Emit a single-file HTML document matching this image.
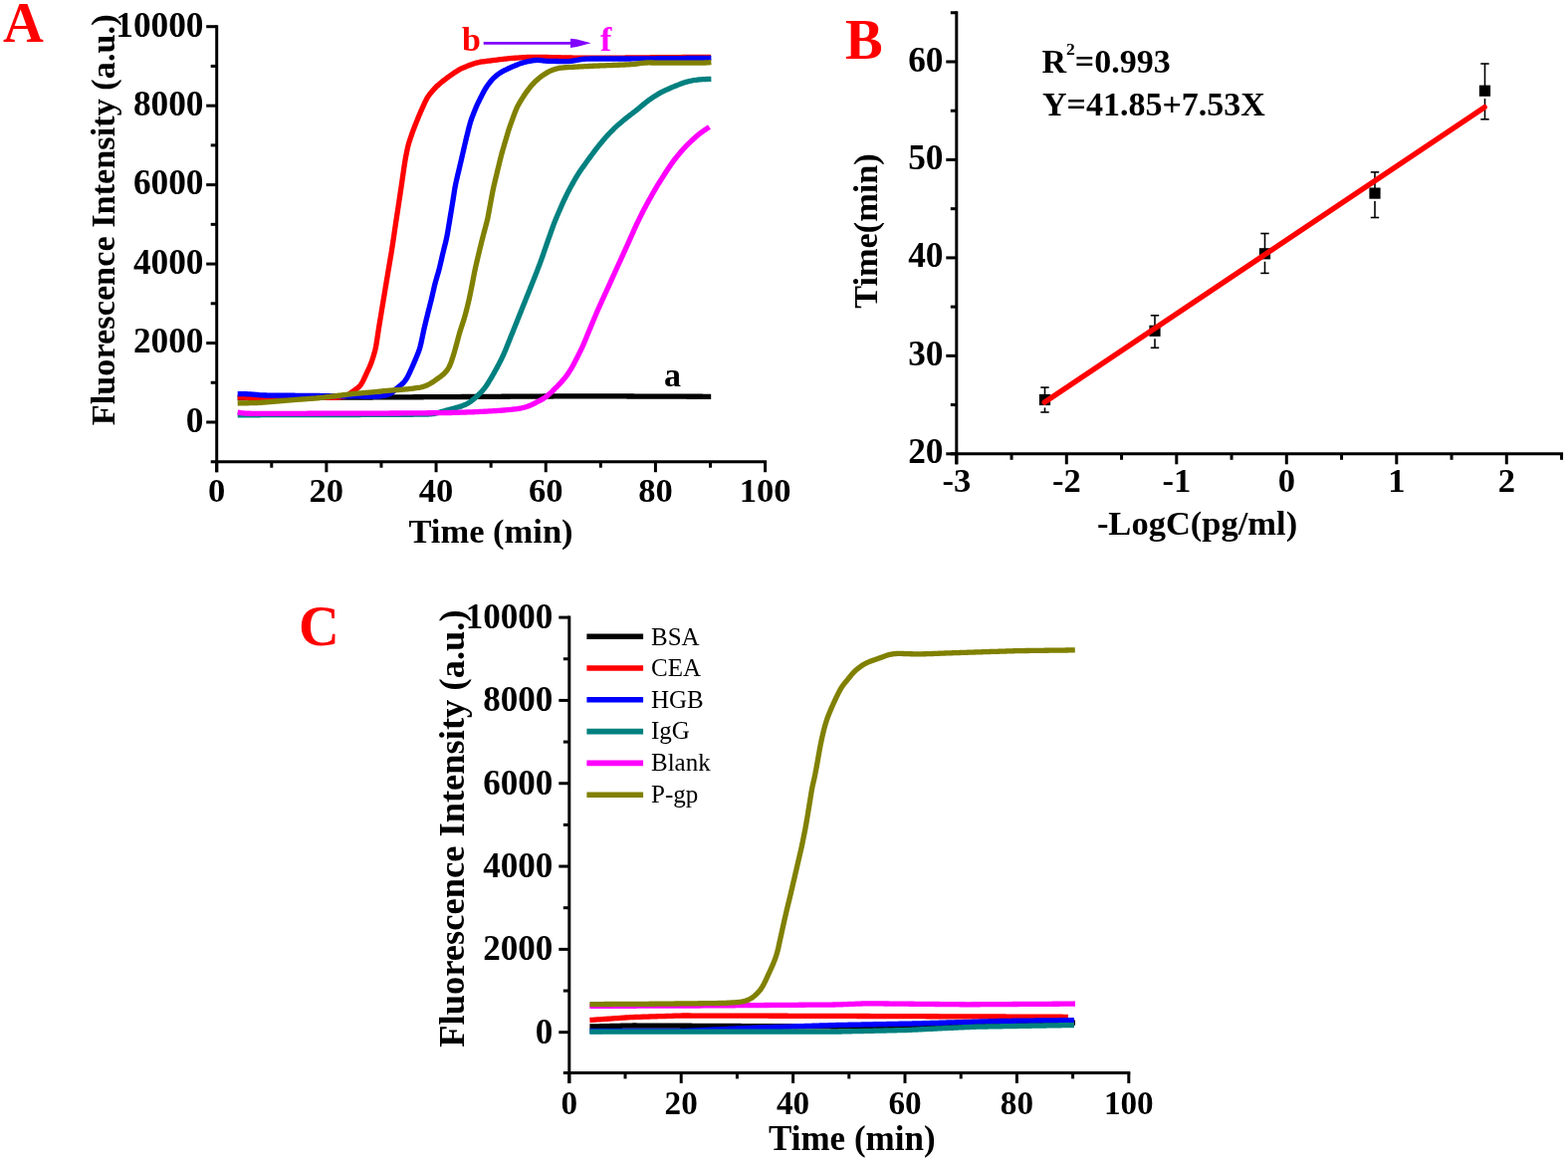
<!DOCTYPE html>
<html><head><meta charset="utf-8"><title>Figure</title>
<style>html,body{margin:0;padding:0;background:#fff;}svg{display:block;}</style>
</head><body>
<svg width="1575" height="1166" viewBox="0 0 1575 1166" font-family="'Liberation Serif', 'Times New Roman', serif">
<rect x="0" y="0" width="1575" height="1166" fill="#fff"/>
<line x1="217.7" y1="25.2" x2="217.7" y2="474.23" stroke="#000" stroke-width="3" stroke-linecap="butt"/>
<line x1="211.7" y1="463.73" x2="770.1" y2="463.73" stroke="#000" stroke-width="3" stroke-linecap="butt"/>
<line x1="207.2" y1="424" x2="217.7" y2="424" stroke="#000" stroke-width="3" stroke-linecap="butt"/>
<line x1="207.2" y1="344.54" x2="217.7" y2="344.54" stroke="#000" stroke-width="3" stroke-linecap="butt"/>
<line x1="207.2" y1="265.08" x2="217.7" y2="265.08" stroke="#000" stroke-width="3" stroke-linecap="butt"/>
<line x1="207.2" y1="185.62" x2="217.7" y2="185.62" stroke="#000" stroke-width="3" stroke-linecap="butt"/>
<line x1="207.2" y1="106.16" x2="217.7" y2="106.16" stroke="#000" stroke-width="3" stroke-linecap="butt"/>
<line x1="207.2" y1="26.7" x2="217.7" y2="26.7" stroke="#000" stroke-width="3" stroke-linecap="butt"/>
<line x1="211.7" y1="384.27" x2="217.7" y2="384.27" stroke="#000" stroke-width="3" stroke-linecap="butt"/>
<line x1="211.7" y1="304.81" x2="217.7" y2="304.81" stroke="#000" stroke-width="3" stroke-linecap="butt"/>
<line x1="211.7" y1="225.35" x2="217.7" y2="225.35" stroke="#000" stroke-width="3" stroke-linecap="butt"/>
<line x1="211.7" y1="145.89" x2="217.7" y2="145.89" stroke="#000" stroke-width="3" stroke-linecap="butt"/>
<line x1="211.7" y1="66.43" x2="217.7" y2="66.43" stroke="#000" stroke-width="3" stroke-linecap="butt"/>
<line x1="217.7" y1="463.73" x2="217.7" y2="474.23" stroke="#000" stroke-width="3" stroke-linecap="butt"/>
<line x1="327.88" y1="463.73" x2="327.88" y2="474.23" stroke="#000" stroke-width="3" stroke-linecap="butt"/>
<line x1="438.06" y1="463.73" x2="438.06" y2="474.23" stroke="#000" stroke-width="3" stroke-linecap="butt"/>
<line x1="548.24" y1="463.73" x2="548.24" y2="474.23" stroke="#000" stroke-width="3" stroke-linecap="butt"/>
<line x1="658.42" y1="463.73" x2="658.42" y2="474.23" stroke="#000" stroke-width="3" stroke-linecap="butt"/>
<line x1="768.6" y1="463.73" x2="768.6" y2="474.23" stroke="#000" stroke-width="3" stroke-linecap="butt"/>
<line x1="272.79" y1="463.73" x2="272.79" y2="469.73" stroke="#000" stroke-width="3" stroke-linecap="butt"/>
<line x1="382.97" y1="463.73" x2="382.97" y2="469.73" stroke="#000" stroke-width="3" stroke-linecap="butt"/>
<line x1="493.15" y1="463.73" x2="493.15" y2="469.73" stroke="#000" stroke-width="3" stroke-linecap="butt"/>
<line x1="603.33" y1="463.73" x2="603.33" y2="469.73" stroke="#000" stroke-width="3" stroke-linecap="butt"/>
<line x1="713.51" y1="463.73" x2="713.51" y2="469.73" stroke="#000" stroke-width="3" stroke-linecap="butt"/>
<text x="204.5" y="433.8" font-size="35.3" text-anchor="end" font-weight="bold" fill="#000">0</text>
<text x="204.5" y="354.34" font-size="35.3" text-anchor="end" font-weight="bold" fill="#000">2000</text>
<text x="204.5" y="274.88" font-size="35.3" text-anchor="end" font-weight="bold" fill="#000">4000</text>
<text x="204.5" y="195.42" font-size="35.3" text-anchor="end" font-weight="bold" fill="#000">6000</text>
<text x="204.5" y="115.96" font-size="35.3" text-anchor="end" font-weight="bold" fill="#000">8000</text>
<text x="204.5" y="36.5" font-size="35.3" text-anchor="end" font-weight="bold" fill="#000">10000</text>
<text x="217.7" y="503.6" font-size="34.6" text-anchor="middle" font-weight="bold" fill="#000">0</text>
<text x="327.88" y="503.6" font-size="34.6" text-anchor="middle" font-weight="bold" fill="#000">20</text>
<text x="438.06" y="503.6" font-size="34.6" text-anchor="middle" font-weight="bold" fill="#000">40</text>
<text x="548.24" y="503.6" font-size="34.6" text-anchor="middle" font-weight="bold" fill="#000">60</text>
<text x="658.42" y="503.6" font-size="34.6" text-anchor="middle" font-weight="bold" fill="#000">80</text>
<text x="768.6" y="503.6" font-size="34.6" text-anchor="middle" font-weight="bold" fill="#000">100</text>
<text x="493" y="545.4" font-size="34.5" text-anchor="middle" font-weight="bold" fill="#000">Time (min)</text>
<text transform="translate(114.9,427.2) rotate(-90)" font-size="34.3" font-weight="bold" text-anchor="start" fill="#000">Fluorescence Intensity (a.u.)</text>
<text x="3" y="41.7" font-size="56.5" text-anchor="start" font-weight="bold" fill="#FF0000">A</text>
<path d="M238.7,399.6 L240.2,399.59 L241.7,399.59 L243.2,399.58 L244.7,399.57 L246.2,399.57 L247.7,399.56 L249.2,399.55 L250.7,399.55 L252.2,399.54 L253.7,399.53 L255.2,399.53 L256.7,399.52 L258.2,399.51 L259.7,399.51 L261.2,399.5 L262.7,399.49 L264.2,399.49 L265.7,399.48 L267.2,399.47 L268.7,399.47 L270.2,399.46 L271.7,399.45 L273.2,399.45 L274.7,399.44 L276.2,399.43 L277.7,399.42 L279.2,399.42 L280.7,399.41 L282.2,399.4 L283.7,399.4 L285.2,399.39 L286.7,399.38 L288.2,399.38 L289.7,399.37 L291.2,399.36 L292.7,399.36 L294.2,399.35 L295.7,399.34 L297.2,399.34 L298.7,399.33 L300.2,399.32 L301.7,399.32 L303.2,399.31 L304.7,399.3 L306.2,399.3 L307.7,399.29 L309.2,399.28 L310.7,399.28 L312.2,399.27 L313.7,399.26 L315.2,399.26 L316.7,399.25 L318.2,399.24 L319.7,399.24 L321.2,399.23 L322.7,399.22 L324.2,399.22 L325.7,399.21 L327.2,399.2 L328.7,399.2 L330.2,399.19 L331.7,399.18 L333.2,399.18 L334.7,399.17 L336.2,399.16 L337.7,399.16 L339.2,399.15 L340.7,399.14 L342.2,399.14 L343.7,399.13 L345.2,399.12 L346.7,399.11 L348.2,399.11 L349.7,399.1 L351.2,399.09 L352.7,399.09 L354.2,399.08 L355.7,399.07 L357.2,399.06 L358.7,399.06 L360.2,399.05 L361.7,399.04 L363.2,399.03 L364.7,399.03 L366.2,399.02 L367.7,399.01 L369.2,399 L370.7,399 L372.2,398.99 L373.7,398.98 L375.2,398.97 L376.7,398.97 L378.2,398.96 L379.7,398.95 L381.2,398.94 L382.7,398.94 L384.2,398.93 L385.7,398.92 L387.2,398.91 L388.7,398.91 L390.2,398.9 L391.7,398.89 L393.2,398.88 L394.7,398.88 L396.2,398.87 L397.7,398.86 L399.2,398.85 L400.7,398.85 L402.2,398.84 L403.7,398.83 L405.2,398.82 L406.7,398.82 L408.2,398.81 L409.7,398.8 L411.2,398.79 L412.7,398.79 L414.2,398.78 L415.7,398.77 L417.2,398.76 L418.7,398.76 L420.2,398.75 L421.7,398.74 L423.2,398.73 L424.7,398.73 L426.2,398.72 L427.7,398.71 L429.2,398.7 L430.7,398.7 L432.2,398.69 L433.7,398.68 L435.2,398.67 L436.7,398.67 L438.2,398.66 L439.7,398.65 L441.2,398.64 L442.7,398.64 L444.2,398.63 L445.7,398.62 L447.2,398.61 L448.7,398.61 L450.2,398.6 L451.7,398.59 L453.2,398.58 L454.7,398.57 L456.2,398.56 L457.7,398.55 L459.2,398.54 L460.7,398.54 L462.2,398.53 L463.7,398.52 L465.2,398.51 L466.7,398.5 L468.2,398.49 L469.7,398.48 L471.2,398.47 L472.7,398.46 L474.2,398.45 L475.7,398.45 L477.2,398.44 L478.7,398.43 L480.2,398.42 L481.7,398.41 L483.2,398.4 L484.7,398.39 L486.2,398.38 L487.7,398.37 L489.2,398.36 L490.7,398.36 L492.2,398.35 L493.7,398.34 L495.2,398.33 L496.7,398.32 L498.2,398.31 L499.7,398.3 L501.2,398.29 L502.7,398.28 L504.2,398.27 L505.7,398.27 L507.2,398.26 L508.7,398.25 L510.2,398.24 L511.7,398.23 L513.2,398.22 L514.7,398.21 L516.2,398.2 L517.7,398.19 L519.2,398.18 L520.7,398.18 L522.2,398.17 L523.7,398.16 L525.2,398.15 L526.7,398.14 L528.2,398.13 L529.7,398.12 L531.2,398.11 L532.7,398.1 L534.2,398.09 L535.7,398.09 L537.2,398.08 L538.7,398.07 L540.2,398.06 L541.7,398.05 L543.2,398.04 L544.7,398.03 L546.2,398.02 L547.7,398.01 L549.2,398.01 L550.7,398 L552.2,397.99 L553.7,397.99 L555.2,397.98 L556.7,397.97 L558.2,397.97 L559.7,397.96 L561.2,397.96 L562.7,397.95 L564.2,397.94 L565.7,397.94 L567.2,397.93 L568.7,397.93 L570.2,397.92 L571.7,397.91 L573.2,397.91 L574.7,397.9 L576.2,397.9 L577.7,397.89 L579.2,397.88 L580.7,397.88 L582.2,397.87 L583.7,397.87 L585.2,397.86 L586.7,397.85 L588.2,397.85 L589.7,397.84 L591.2,397.84 L592.7,397.83 L594.2,397.82 L595.7,397.82 L597.2,397.81 L598.7,397.81 L600.2,397.81 L601.7,397.81 L603.2,397.82 L604.7,397.83 L606.2,397.84 L607.7,397.85 L609.2,397.86 L610.7,397.86 L612.2,397.87 L613.7,397.88 L615.2,397.89 L616.7,397.9 L618.2,397.91 L619.7,397.92 L621.2,397.93 L622.7,397.94 L624.2,397.95 L625.7,397.95 L627.2,397.96 L628.7,397.97 L630.2,397.98 L631.7,397.99 L633.2,398 L634.7,398.01 L636.2,398.02 L637.7,398.03 L639.2,398.04 L640.7,398.04 L642.2,398.05 L643.7,398.06 L645.2,398.07 L646.7,398.08 L648.2,398.09 L649.7,398.1 L651.2,398.1 L652.7,398.11 L654.2,398.11 L655.7,398.12 L657.2,398.12 L658.7,398.13 L660.2,398.13 L661.7,398.14 L663.2,398.14 L664.7,398.15 L666.2,398.15 L667.7,398.16 L669.2,398.16 L670.7,398.16 L672.2,398.17 L673.7,398.17 L675.2,398.18 L676.7,398.18 L678.2,398.19 L679.7,398.19 L681.2,398.2 L682.7,398.2 L684.2,398.21 L685.7,398.21 L687.2,398.22 L688.7,398.22 L690.2,398.23 L691.7,398.23 L693.2,398.23 L694.7,398.24 L696.2,398.24 L697.7,398.25 L699.2,398.25 L700.7,398.26 L702.2,398.26 L703.7,398.27 L705.2,398.27 L706.7,398.28 L708.2,398.28 L709.7,398.29 L711.2,398.29 L712.7,398.3 L714.2,398.3" fill="none" stroke="#000000" stroke-width="5.3" stroke-linejoin="round" stroke-linecap="butt"/>
<path d="M238.7,399.2 L240.2,399.2 L241.7,399.21 L243.21,399.21 L244.71,399.22 L246.21,399.22 L247.71,399.23 L249.21,399.23 L250.72,399.24 L252.22,399.24 L253.72,399.25 L255.22,399.25 L256.72,399.26 L258.22,399.26 L259.73,399.27 L261.23,399.27 L262.73,399.28 L264.23,399.28 L265.73,399.29 L267.24,399.29 L268.74,399.3 L270.24,399.3 L271.74,399.31 L273.24,399.31 L274.75,399.32 L276.25,399.32 L277.75,399.33 L279.25,399.33 L280.75,399.34 L282.26,399.34 L283.76,399.35 L285.26,399.35 L286.76,399.36 L288.26,399.36 L289.76,399.37 L291.27,399.37 L292.77,399.38 L294.27,399.38 L295.77,399.39 L297.27,399.39 L298.78,399.39 L300.28,399.4 L301.78,399.4 L303.28,399.4 L304.78,399.4 L306.29,399.4 L307.79,399.4 L309.29,399.4 L310.79,399.4 L312.29,399.4 L313.8,399.4 L315.3,399.4 L316.8,399.4 L318.3,399.4 L319.8,399.4 L321.3,399.4 L322.81,399.4 L324.31,399.4 L325.81,399.4 L327.31,399.4 L328.81,399.4 L330.32,399.4 L331.82,399.4 L333.32,399.39 L334.82,399.38 L336.32,399.35 L337.82,399.3 L339.31,399.21 L340.8,399.09 L342.28,398.91 L343.73,398.66 L345.16,398.33 L346.55,397.9 L347.89,397.36 L349.18,396.7 L350.42,395.94 L351.64,395.11 L352.85,394.24 L354.06,393.37 L355.28,392.5 L356.5,391.64 L357.71,390.77 L358.9,389.89 L360.02,388.96 L361.07,387.96 L362.02,386.88 L362.88,385.72 L363.64,384.48 L364.35,383.18 L365.01,381.85 L365.65,380.5 L366.28,379.14 L366.91,377.77 L367.54,376.41 L368.18,375.05 L368.81,373.69 L369.45,372.33 L370.08,370.97 L370.71,369.6 L371.33,368.24 L371.92,366.86 L372.49,365.47 L373.03,364.08 L373.53,362.66 L374,361.24 L374.46,359.81 L374.9,358.38 L375.33,356.94 L375.75,355.5 L376.16,354.06 L376.55,352.61 L376.92,351.15 L377.25,349.69 L377.56,348.23 L377.83,346.75 L378.08,345.27 L378.32,343.79 L378.55,342.31 L378.78,340.82 L379,339.34 L379.22,337.85 L379.45,336.37 L379.67,334.88 L379.9,333.4 L380.12,331.91 L380.35,330.43 L380.58,328.95 L380.82,327.46 L381.06,325.98 L381.3,324.5 L381.54,323.02 L381.79,321.53 L382.03,320.05 L382.28,318.57 L382.53,317.09 L382.77,315.61 L383.02,314.13 L383.26,312.64 L383.51,311.16 L383.75,309.68 L384,308.2 L384.24,306.72 L384.49,305.24 L384.74,303.75 L384.98,302.27 L385.23,300.79 L385.47,299.31 L385.72,297.83 L385.96,296.35 L386.21,294.86 L386.46,293.38 L386.7,291.9 L386.95,290.42 L387.19,288.94 L387.44,287.46 L387.68,285.97 L387.93,284.49 L388.18,283.01 L388.42,281.53 L388.67,280.05 L388.91,278.56 L389.16,277.08 L389.4,275.6 L389.65,274.12 L389.9,272.64 L390.15,271.16 L390.4,269.68 L390.65,268.2 L390.9,266.72 L391.15,265.23 L391.4,263.75 L391.66,262.27 L391.91,260.79 L392.16,259.31 L392.42,257.83 L392.67,256.35 L392.91,254.87 L393.16,253.39 L393.4,251.91 L393.63,250.42 L393.86,248.94 L394.09,247.45 L394.31,245.97 L394.53,244.48 L394.75,243 L394.97,241.51 L395.19,240.03 L395.41,238.54 L395.63,237.05 L395.85,235.57 L396.07,234.08 L396.28,232.6 L396.5,231.11 L396.72,229.62 L396.94,228.14 L397.16,226.65 L397.39,225.17 L397.61,223.68 L397.83,222.2 L398.06,220.71 L398.28,219.23 L398.51,217.74 L398.73,216.26 L398.96,214.77 L399.18,213.29 L399.41,211.8 L399.63,210.32 L399.86,208.83 L400.08,207.35 L400.31,205.86 L400.54,204.38 L400.76,202.89 L400.98,201.41 L401.21,199.92 L401.43,198.44 L401.65,196.95 L401.88,195.47 L402.1,193.98 L402.32,192.5 L402.54,191.01 L402.76,189.52 L402.98,188.04 L403.2,186.55 L403.42,185.07 L403.64,183.58 L403.85,182.1 L404.07,180.61 L404.28,179.12 L404.5,177.64 L404.72,176.15 L404.93,174.66 L405.15,173.18 L405.36,171.69 L405.58,170.2 L405.79,168.72 L406.01,167.23 L406.23,165.75 L406.46,164.26 L406.69,162.78 L406.93,161.3 L407.19,159.82 L407.45,158.34 L407.73,156.86 L408.02,155.39 L408.31,153.92 L408.61,152.44 L408.91,150.97 L409.22,149.51 L409.55,148.04 L409.9,146.58 L410.28,145.13 L410.68,143.69 L411.12,142.26 L411.58,140.83 L412.06,139.41 L412.55,137.99 L413.04,136.57 L413.54,135.15 L414.03,133.74 L414.54,132.32 L415.05,130.91 L415.57,129.5 L416.11,128.1 L416.65,126.7 L417.2,125.3 L417.76,123.91 L418.32,122.51 L418.88,121.12 L419.44,119.73 L420,118.34 L420.57,116.95 L421.15,115.56 L421.74,114.18 L422.33,112.8 L422.93,111.42 L423.54,110.05 L424.16,108.68 L424.78,107.31 L425.4,105.94 L426.02,104.58 L426.65,103.22 L427.29,101.86 L427.95,100.52 L428.65,99.2 L429.4,97.92 L430.2,96.67 L431.06,95.45 L431.96,94.26 L432.9,93.1 L433.86,91.95 L434.84,90.81 L435.84,89.69 L436.85,88.59 L437.88,87.51 L438.95,86.46 L440.05,85.44 L441.17,84.46 L442.32,83.5 L443.49,82.55 L444.66,81.62 L445.85,80.69 L447.03,79.78 L448.23,78.87 L449.43,77.97 L450.64,77.08 L451.86,76.21 L453.09,75.34 L454.32,74.48 L455.55,73.63 L456.79,72.78 L458.04,71.95 L459.3,71.15 L460.58,70.38 L461.89,69.65 L463.22,68.97 L464.57,68.34 L465.94,67.75 L467.33,67.18 L468.72,66.62 L470.12,66.08 L471.52,65.54 L472.93,65.01 L474.34,64.5 L475.75,64.01 L477.18,63.56 L478.62,63.15 L480.07,62.79 L481.53,62.48 L483,62.21 L484.48,61.98 L485.97,61.77 L487.46,61.57 L488.94,61.38 L490.43,61.2 L491.92,61.01 L493.42,60.82 L494.91,60.64 L496.4,60.45 L497.89,60.27 L499.38,60.08 L500.87,59.9 L502.36,59.71 L503.85,59.53 L505.34,59.35 L506.83,59.18 L508.32,59.01 L509.82,58.85 L511.31,58.71 L512.81,58.59 L514.3,58.47 L515.8,58.36 L517.3,58.26 L518.8,58.16 L520.3,58.06 L521.8,57.96 L523.29,57.86 L524.79,57.76 L526.29,57.67 L527.79,57.57 L529.29,57.49 L530.79,57.41 L532.29,57.36 L533.79,57.32 L535.29,57.3 L536.79,57.29 L538.29,57.3 L539.79,57.32 L541.29,57.34 L542.8,57.37 L544.3,57.39 L545.8,57.42 L547.3,57.44 L548.8,57.47 L550.3,57.5 L551.81,57.53 L553.31,57.55 L554.81,57.58 L556.31,57.62 L557.81,57.65 L559.31,57.69 L560.82,57.72 L562.32,57.76 L563.82,57.8 L565.32,57.84 L566.82,57.88 L568.32,57.91 L569.82,57.95 L571.33,57.97 L572.83,58 L574.33,58.02 L575.83,58.04 L577.33,58.06 L578.83,58.08 L580.34,58.09 L581.84,58.11 L583.34,58.13 L584.84,58.14 L586.34,58.16 L587.84,58.17 L589.35,58.19 L590.85,58.2 L592.35,58.22 L593.85,58.23 L595.35,58.25 L596.86,58.26 L598.36,58.27 L599.86,58.27 L601.36,58.27 L602.86,58.26 L604.37,58.25 L605.87,58.24 L607.37,58.23 L608.87,58.21 L610.37,58.2 L611.87,58.18 L613.38,58.17 L614.88,58.15 L616.38,58.14 L617.88,58.12 L619.38,58.11 L620.89,58.09 L622.39,58.08 L623.89,58.06 L625.39,58.05 L626.89,58.03 L628.39,58.02 L629.9,58 L631.4,57.99 L632.9,57.97 L634.4,57.96 L635.9,57.94 L637.41,57.93 L638.91,57.91 L640.41,57.9 L641.91,57.88 L643.41,57.87 L644.91,57.85 L646.42,57.84 L647.92,57.82 L649.42,57.81 L650.92,57.8 L652.42,57.78 L653.93,57.77 L655.43,57.76 L656.93,57.75 L658.43,57.73 L659.93,57.72 L661.43,57.71 L662.94,57.7 L664.44,57.69 L665.94,57.68 L667.44,57.66 L668.94,57.65 L670.45,57.64 L671.95,57.63 L673.45,57.62 L674.95,57.61 L676.45,57.59 L677.96,57.58 L679.46,57.57 L680.96,57.56 L682.46,57.55 L683.96,57.53 L685.46,57.52 L686.97,57.51 L688.47,57.5 L689.97,57.49 L691.47,57.48 L692.97,57.46 L694.48,57.45 L695.98,57.44 L697.48,57.43 L698.98,57.42 L700.48,57.41 L701.99,57.39 L703.49,57.38 L704.99,57.37 L706.49,57.36 L707.99,57.35 L709.49,57.34 L711,57.32 L712.5,57.31 L714,57.3" fill="none" stroke="#FF0000" stroke-width="5.3" stroke-linejoin="round" stroke-linecap="butt"/>
<path d="M238.7,395.6 L240.2,395.62 L241.7,395.65 L243.2,395.67 L244.7,395.69 L246.2,395.72 L247.7,395.76 L249.2,395.81 L250.69,395.88 L252.19,395.97 L253.68,396.08 L255.18,396.22 L256.67,396.36 L258.16,396.51 L259.65,396.65 L261.15,396.77 L262.64,396.87 L264.14,396.94 L265.63,396.99 L267.13,397.02 L268.63,397.05 L270.13,397.06 L271.63,397.08 L273.13,397.09 L274.63,397.1 L276.13,397.11 L277.63,397.12 L279.13,397.14 L280.63,397.15 L282.13,397.16 L283.63,397.17 L285.13,397.18 L286.64,397.19 L288.14,397.21 L289.64,397.22 L291.14,397.23 L292.64,397.24 L294.14,397.25 L295.64,397.27 L297.14,397.28 L298.64,397.29 L300.14,397.3 L301.64,397.32 L303.14,397.33 L304.64,397.35 L306.14,397.36 L307.64,397.38 L309.14,397.39 L310.64,397.41 L312.14,397.42 L313.64,397.44 L315.14,397.45 L316.64,397.47 L318.14,397.48 L319.64,397.5 L321.14,397.51 L322.64,397.53 L324.14,397.54 L325.64,397.56 L327.14,397.57 L328.64,397.59 L330.14,397.6 L331.64,397.62 L333.14,397.63 L334.64,397.65 L336.14,397.66 L337.64,397.68 L339.14,397.69 L340.64,397.71 L342.14,397.73 L343.64,397.75 L345.14,397.76 L346.64,397.78 L348.14,397.8 L349.64,397.82 L351.14,397.84 L352.64,397.86 L354.14,397.88 L355.64,397.9 L357.14,397.91 L358.64,397.93 L360.15,397.95 L361.65,397.97 L363.15,397.99 L364.65,398.01 L366.15,398.03 L367.65,398.05 L369.15,398.06 L370.65,398.08 L372.15,398.1 L373.65,398.11 L375.15,398.11 L376.64,398.1 L378.14,398.06 L379.63,397.99 L381.13,397.88 L382.61,397.74 L384.1,397.56 L385.57,397.35 L387.03,397.09 L388.45,396.77 L389.83,396.35 L391.15,395.82 L392.41,395.15 L393.6,394.36 L394.74,393.46 L395.86,392.51 L396.97,391.52 L398.08,390.54 L399.22,389.57 L400.37,388.61 L401.53,387.68 L402.67,386.73 L403.79,385.77 L404.86,384.76 L405.85,383.69 L406.77,382.56 L407.61,381.36 L408.4,380.1 L409.14,378.81 L409.85,377.5 L410.53,376.16 L411.18,374.82 L411.83,373.46 L412.46,372.1 L413.08,370.74 L413.69,369.37 L414.3,368 L414.9,366.62 L415.49,365.24 L416.08,363.86 L416.67,362.48 L417.25,361.1 L417.83,359.72 L418.41,358.33 L418.98,356.95 L419.54,355.56 L420.09,354.16 L420.61,352.76 L421.1,351.34 L421.55,349.92 L421.97,348.48 L422.35,347.04 L422.7,345.58 L423.03,344.12 L423.35,342.65 L423.66,341.19 L423.97,339.72 L424.28,338.25 L424.59,336.78 L424.9,335.32 L425.22,333.85 L425.53,332.38 L425.85,330.92 L426.18,329.45 L426.52,327.99 L426.86,326.53 L427.21,325.07 L427.56,323.61 L427.92,322.16 L428.28,320.7 L428.63,319.24 L428.99,317.79 L429.36,316.33 L429.72,314.87 L430.08,313.42 L430.45,311.96 L430.82,310.51 L431.19,309.06 L431.56,307.6 L431.93,306.15 L432.3,304.69 L432.66,303.24 L433.02,301.78 L433.38,300.33 L433.73,298.87 L434.07,297.41 L434.41,295.94 L434.74,294.48 L435.08,293.02 L435.41,291.56 L435.75,290.1 L436.09,288.63 L436.43,287.17 L436.79,285.72 L437.16,284.27 L437.55,282.82 L437.95,281.37 L438.36,279.93 L438.78,278.49 L439.21,277.05 L439.63,275.61 L440.05,274.17 L440.46,272.73 L440.86,271.29 L441.24,269.84 L441.61,268.38 L441.96,266.92 L442.31,265.46 L442.64,264 L442.98,262.54 L443.31,261.08 L443.65,259.61 L443.98,258.15 L444.32,256.69 L444.67,255.23 L445.01,253.77 L445.37,252.31 L445.73,250.86 L446.09,249.4 L446.45,247.95 L446.81,246.49 L447.18,245.03 L447.53,243.58 L447.89,242.12 L448.22,240.66 L448.55,239.19 L448.85,237.73 L449.14,236.26 L449.41,234.78 L449.67,233.3 L449.92,231.82 L450.17,230.35 L450.41,228.87 L450.66,227.39 L450.9,225.91 L451.15,224.43 L451.4,222.94 L451.64,221.46 L451.89,219.98 L452.13,218.5 L452.38,217.02 L452.62,215.54 L452.87,214.06 L453.11,212.58 L453.36,211.1 L453.6,209.62 L453.85,208.14 L454.09,206.66 L454.34,205.18 L454.58,203.7 L454.82,202.22 L455.06,200.74 L455.29,199.26 L455.52,197.78 L455.75,196.29 L455.97,194.81 L456.2,193.33 L456.43,191.84 L456.67,190.36 L456.91,188.89 L457.18,187.41 L457.46,185.94 L457.76,184.47 L458.08,183 L458.41,181.54 L458.75,180.08 L459.09,178.62 L459.43,177.16 L459.78,175.7 L460.13,174.24 L460.47,172.78 L460.82,171.32 L461.16,169.86 L461.51,168.4 L461.85,166.94 L462.2,165.48 L462.54,164.02 L462.88,162.56 L463.23,161.1 L463.57,159.64 L463.9,158.17 L464.24,156.71 L464.58,155.25 L464.91,153.79 L465.25,152.33 L465.58,150.86 L465.92,149.4 L466.25,147.94 L466.59,146.48 L466.92,145.01 L467.26,143.55 L467.6,142.09 L467.95,140.63 L468.3,139.17 L468.65,137.71 L469.01,136.26 L469.37,134.8 L469.73,133.34 L470.09,131.89 L470.45,130.43 L470.82,128.98 L471.19,127.52 L471.57,126.07 L471.96,124.63 L472.38,123.19 L472.82,121.76 L473.29,120.34 L473.79,118.92 L474.31,117.52 L474.84,116.12 L475.38,114.72 L475.93,113.32 L476.48,111.93 L477.04,110.53 L477.6,109.15 L478.18,107.76 L478.78,106.39 L479.4,105.02 L480.03,103.66 L480.68,102.31 L481.34,100.97 L482.01,99.62 L482.68,98.28 L483.36,96.94 L484.03,95.6 L484.71,94.27 L485.4,92.94 L486.11,91.62 L486.84,90.31 L487.6,89.03 L488.4,87.76 L489.23,86.52 L490.1,85.3 L490.99,84.1 L491.9,82.91 L492.83,81.74 L493.79,80.6 L494.78,79.49 L495.82,78.42 L496.9,77.39 L498.01,76.41 L499.17,75.46 L500.35,74.56 L501.57,73.69 L502.81,72.87 L504.09,72.1 L505.39,71.38 L506.72,70.69 L508.06,70.03 L509.41,69.39 L510.77,68.76 L512.14,68.14 L513.51,67.53 L514.89,66.93 L516.27,66.35 L517.65,65.77 L519.04,65.21 L520.43,64.65 L521.83,64.12 L523.24,63.61 L524.65,63.13 L526.08,62.7 L527.52,62.31 L528.98,61.96 L530.44,61.64 L531.91,61.35 L533.38,61.08 L534.85,60.83 L536.33,60.64 L537.8,60.5 L539.28,60.44 L540.75,60.46 L542.23,60.55 L543.71,60.7 L545.19,60.87 L546.67,61.04 L548.16,61.19 L549.65,61.29 L551.14,61.37 L552.64,61.41 L554.14,61.43 L555.64,61.45 L557.14,61.47 L558.64,61.49 L560.13,61.52 L561.63,61.55 L563.13,61.58 L564.63,61.61 L566.13,61.63 L567.63,61.63 L569.12,61.6 L570.61,61.54 L572.1,61.42 L573.59,61.26 L575.07,61.05 L576.54,60.82 L578.02,60.56 L579.5,60.3 L580.97,60.05 L582.45,59.8 L583.93,59.58 L585.41,59.39 L586.9,59.24 L588.39,59.14 L589.89,59.07 L591.38,59.03 L592.88,59.01 L594.38,59 L595.88,59 L597.38,59 L598.88,59 L600.38,59 L601.88,59 L603.38,59 L604.88,59 L606.38,59 L607.88,59 L609.38,59 L610.88,59 L612.38,59 L613.88,59 L615.38,59 L616.88,59 L618.38,59 L619.89,59 L621.39,59 L622.89,59 L624.39,59 L625.89,59 L627.39,59 L628.89,59 L630.39,58.99 L631.89,58.99 L633.39,58.98 L634.89,58.97 L636.39,58.96 L637.89,58.95 L639.39,58.94 L640.89,58.93 L642.39,58.92 L643.89,58.9 L645.39,58.89 L646.89,58.88 L648.39,58.86 L649.89,58.85 L651.39,58.84 L652.89,58.83 L654.39,58.81 L655.89,58.8 L657.39,58.79 L658.89,58.78 L660.39,58.76 L661.89,58.75 L663.39,58.74 L664.89,58.72 L666.39,58.71 L667.89,58.7 L669.39,58.69 L670.89,58.67 L672.39,58.66 L673.89,58.65 L675.39,58.63 L676.89,58.62 L678.39,58.61 L679.89,58.6 L681.39,58.58 L682.9,58.57 L684.4,58.56 L685.9,58.54 L687.4,58.53 L688.9,58.52 L690.4,58.51 L691.9,58.49 L693.4,58.48 L694.9,58.47 L696.4,58.45 L697.9,58.44 L699.4,58.43 L700.9,58.42 L702.4,58.4 L703.9,58.39 L705.4,58.38 L706.9,58.36 L708.4,58.35 L709.9,58.34 L711.4,58.33 L712.9,58.31 L714.4,58.3" fill="none" stroke="#0000FF" stroke-width="5.3" stroke-linejoin="round" stroke-linecap="butt"/>
<path d="M238.7,405 L240.2,404.96 L241.7,404.93 L243.2,404.89 L244.7,404.86 L246.2,404.82 L247.7,404.79 L249.2,404.75 L250.7,404.72 L252.21,404.68 L253.71,404.64 L255.21,404.6 L256.71,404.55 L258.2,404.49 L259.7,404.42 L261.2,404.34 L262.7,404.24 L264.19,404.13 L265.69,404.01 L267.19,403.89 L268.68,403.76 L270.18,403.63 L271.67,403.51 L273.17,403.38 L274.66,403.25 L276.16,403.13 L277.66,403 L279.15,402.88 L280.65,402.75 L282.14,402.63 L283.64,402.51 L285.14,402.39 L286.63,402.27 L288.13,402.15 L289.62,402.03 L291.12,401.91 L292.62,401.79 L294.11,401.67 L295.61,401.55 L297.11,401.44 L298.6,401.32 L300.1,401.21 L301.6,401.1 L303.09,400.99 L304.59,400.88 L306.09,400.77 L307.58,400.67 L309.08,400.56 L310.58,400.46 L312.08,400.35 L313.57,400.25 L315.07,400.14 L316.57,400.02 L318.06,399.9 L319.56,399.76 L321.05,399.61 L322.54,399.45 L324.03,399.28 L325.52,399.1 L327.01,398.92 L328.5,398.74 L329.99,398.55 L331.48,398.36 L332.97,398.18 L334.46,397.99 L335.95,397.81 L337.44,397.62 L338.93,397.44 L340.42,397.25 L341.91,397.07 L343.4,396.89 L344.89,396.71 L346.38,396.53 L347.87,396.35 L349.36,396.17 L350.85,395.99 L352.34,395.82 L353.83,395.65 L355.32,395.49 L356.82,395.33 L358.31,395.19 L359.8,395.06 L361.3,394.94 L362.8,394.81 L364.29,394.7 L365.79,394.58 L367.28,394.46 L368.78,394.35 L370.28,394.23 L371.77,394.11 L373.27,393.98 L374.76,393.85 L376.26,393.72 L377.75,393.57 L379.24,393.41 L380.74,393.25 L382.23,393.08 L383.72,392.9 L385.21,392.73 L386.7,392.57 L388.19,392.41 L389.69,392.27 L391.18,392.15 L392.68,392.03 L394.17,391.93 L395.67,391.83 L397.17,391.74 L398.67,391.64 L400.17,391.55 L401.66,391.45 L403.16,391.34 L404.66,391.23 L406.15,391.1 L407.64,390.95 L409.14,390.79 L410.63,390.63 L412.12,390.45 L413.61,390.27 L415.1,390.09 L416.59,389.9 L418.07,389.7 L419.56,389.49 L421.04,389.26 L422.5,389 L423.96,388.69 L425.38,388.31 L426.78,387.85 L428.15,387.31 L429.49,386.68 L430.81,385.99 L432.11,385.26 L433.39,384.48 L434.65,383.68 L435.9,382.86 L437.14,382.01 L438.37,381.15 L439.59,380.28 L440.81,379.4 L442.01,378.51 L443.2,377.61 L444.37,376.68 L445.5,375.72 L446.58,374.7 L447.6,373.63 L448.55,372.51 L449.43,371.32 L450.23,370.08 L450.95,368.79 L451.61,367.46 L452.2,366.1 L452.75,364.71 L453.27,363.3 L453.76,361.89 L454.24,360.47 L454.71,359.04 L455.16,357.61 L455.61,356.18 L456.04,354.74 L456.46,353.3 L456.87,351.86 L457.27,350.41 L457.67,348.97 L458.07,347.52 L458.46,346.07 L458.85,344.62 L459.24,343.17 L459.62,341.72 L460.01,340.27 L460.39,338.82 L460.79,337.37 L461.19,335.92 L461.6,334.48 L462.03,333.04 L462.47,331.61 L462.92,330.18 L463.38,328.75 L463.85,327.32 L464.32,325.9 L464.78,324.47 L465.25,323.05 L465.71,321.62 L466.15,320.18 L466.58,318.75 L467,317.31 L467.4,315.86 L467.79,314.41 L468.17,312.96 L468.54,311.51 L468.91,310.05 L469.28,308.6 L469.64,307.14 L470,305.68 L470.35,304.22 L470.69,302.76 L471.02,301.3 L471.34,299.83 L471.65,298.36 L471.96,296.89 L472.26,295.42 L472.57,293.95 L472.87,292.48 L473.17,291.01 L473.47,289.54 L473.76,288.07 L474.06,286.6 L474.35,285.13 L474.63,283.65 L474.92,282.18 L475.2,280.71 L475.48,279.23 L475.77,277.76 L476.05,276.28 L476.34,274.81 L476.64,273.34 L476.94,271.87 L477.25,270.4 L477.57,268.93 L477.89,267.47 L478.23,266.01 L478.56,264.54 L478.9,263.08 L479.24,261.62 L479.59,260.16 L479.93,258.7 L480.27,257.24 L480.62,255.78 L480.97,254.32 L481.32,252.86 L481.67,251.4 L482.02,249.94 L482.38,248.48 L482.74,247.02 L483.09,245.56 L483.45,244.11 L483.81,242.65 L484.18,241.19 L484.54,239.74 L484.92,238.28 L485.29,236.83 L485.67,235.38 L486.06,233.93 L486.45,232.48 L486.84,231.03 L487.22,229.58 L487.61,228.13 L488,226.68 L488.38,225.23 L488.76,223.78 L489.12,222.32 L489.47,220.86 L489.8,219.4 L490.11,217.93 L490.41,216.46 L490.69,214.99 L490.96,213.51 L491.23,212.04 L491.5,210.56 L491.77,209.08 L492.04,207.61 L492.3,206.13 L492.58,204.65 L492.85,203.18 L493.12,201.7 L493.4,200.23 L493.67,198.75 L493.95,197.27 L494.23,195.8 L494.51,194.33 L494.79,192.85 L495.09,191.38 L495.39,189.91 L495.7,188.44 L496.02,186.98 L496.36,185.51 L496.7,184.05 L497.05,182.59 L497.4,181.13 L497.75,179.67 L498.1,178.21 L498.45,176.76 L498.8,175.3 L499.15,173.84 L499.51,172.38 L499.86,170.92 L500.21,169.46 L500.56,168 L500.91,166.54 L501.26,165.08 L501.62,163.62 L501.97,162.16 L502.33,160.71 L502.69,159.25 L503.05,157.79 L503.43,156.34 L503.82,154.89 L504.22,153.45 L504.63,152 L505.04,150.56 L505.46,149.12 L505.88,147.68 L506.3,146.24 L506.72,144.8 L507.14,143.35 L507.57,141.91 L507.99,140.47 L508.41,139.03 L508.83,137.59 L509.26,136.15 L509.68,134.71 L510.11,133.28 L510.55,131.84 L511.01,130.41 L511.47,128.99 L511.95,127.56 L512.44,126.15 L512.94,124.73 L513.45,123.32 L513.96,121.91 L514.47,120.5 L514.99,119.09 L515.5,117.68 L516.01,116.27 L516.53,114.86 L517.05,113.45 L517.58,112.05 L518.13,110.66 L518.71,109.28 L519.33,107.92 L519.99,106.58 L520.69,105.25 L521.42,103.95 L522.17,102.65 L522.95,101.37 L523.73,100.09 L524.53,98.82 L525.34,97.56 L526.16,96.3 L527,95.06 L527.85,93.82 L528.71,92.59 L529.58,91.37 L530.46,90.16 L531.35,88.96 L532.27,87.77 L533.21,86.61 L534.19,85.48 L535.19,84.37 L536.23,83.29 L537.29,82.23 L538.36,81.19 L539.46,80.18 L540.59,79.19 L541.74,78.23 L542.91,77.31 L544.11,76.42 L545.34,75.56 L546.58,74.72 L547.84,73.92 L549.13,73.15 L550.43,72.42 L551.76,71.73 L553.1,71.09 L554.47,70.49 L555.86,69.96 L557.27,69.49 L558.7,69.09 L560.15,68.75 L561.61,68.46 L563.09,68.22 L564.57,68.03 L566.06,67.88 L567.55,67.75 L569.05,67.64 L570.54,67.55 L572.04,67.47 L573.54,67.39 L575.04,67.31 L576.54,67.23 L578.04,67.15 L579.54,67.08 L581.04,67 L582.53,66.93 L584.03,66.85 L585.53,66.78 L587.03,66.7 L588.53,66.63 L590.03,66.55 L591.53,66.48 L593.03,66.41 L594.53,66.33 L596.03,66.26 L597.53,66.2 L599.03,66.13 L600.53,66.07 L602.03,66.01 L603.52,65.95 L605.02,65.89 L606.52,65.83 L608.02,65.78 L609.52,65.72 L611.02,65.66 L612.52,65.6 L614.02,65.54 L615.52,65.48 L617.02,65.43 L618.52,65.37 L620.02,65.31 L621.52,65.25 L623.02,65.19 L624.52,65.13 L626.02,65.08 L627.52,65.02 L629.02,64.95 L630.52,64.88 L632.02,64.8 L633.51,64.71 L635.01,64.59 L636.5,64.45 L637.99,64.28 L639.48,64.09 L640.96,63.88 L642.45,63.68 L643.93,63.48 L645.42,63.3 L646.91,63.16 L648.4,63.05 L649.89,62.99 L651.39,62.96 L652.89,62.96 L654.39,62.98 L655.89,63.01 L657.39,63.04 L658.89,63.08 L660.39,63.11 L661.89,63.14 L663.39,63.16 L664.89,63.18 L666.39,63.19 L667.89,63.19 L669.39,63.2 L670.89,63.2 L672.4,63.2 L673.9,63.2 L675.4,63.2 L676.9,63.2 L678.4,63.2 L679.9,63.2 L681.4,63.2 L682.9,63.2 L684.4,63.2 L685.9,63.2 L687.41,63.2 L688.91,63.2 L690.41,63.2 L691.91,63.2 L693.41,63.2 L694.91,63.2 L696.41,63.2 L697.91,63.2 L699.41,63.2 L700.91,63.19 L702.41,63.18 L703.91,63.16 L705.41,63.13 L706.91,63.07 L708.41,63 L709.91,62.92 L711.41,62.82 L712.9,62.71 L714.4,62.6" fill="none" stroke="#808000" stroke-width="5.3" stroke-linejoin="round" stroke-linecap="butt"/>
<path d="M238.7,416.8 L240.2,416.8 L241.7,416.79 L243.2,416.79 L244.7,416.78 L246.21,416.78 L247.71,416.77 L249.21,416.77 L250.71,416.76 L252.21,416.76 L253.71,416.75 L255.21,416.75 L256.71,416.74 L258.22,416.74 L259.72,416.73 L261.22,416.73 L262.72,416.72 L264.22,416.72 L265.72,416.71 L267.22,416.71 L268.72,416.7 L270.23,416.7 L271.73,416.69 L273.23,416.69 L274.73,416.68 L276.23,416.68 L277.73,416.67 L279.23,416.67 L280.73,416.66 L282.24,416.66 L283.74,416.65 L285.24,416.65 L286.74,416.64 L288.24,416.64 L289.74,416.63 L291.24,416.63 L292.74,416.62 L294.25,416.62 L295.75,416.61 L297.25,416.61 L298.75,416.61 L300.25,416.6 L301.75,416.6 L303.25,416.59 L304.75,416.59 L306.26,416.59 L307.76,416.58 L309.26,416.58 L310.76,416.58 L312.26,416.58 L313.76,416.57 L315.26,416.57 L316.76,416.57 L318.27,416.56 L319.77,416.56 L321.27,416.56 L322.77,416.55 L324.27,416.55 L325.77,416.55 L327.27,416.55 L328.77,416.54 L330.28,416.54 L331.78,416.54 L333.28,416.53 L334.78,416.53 L336.28,416.53 L337.78,416.52 L339.28,416.52 L340.78,416.52 L342.28,416.52 L343.79,416.51 L345.29,416.51 L346.79,416.51 L348.29,416.5 L349.79,416.5 L351.29,416.5 L352.79,416.49 L354.29,416.49 L355.8,416.49 L357.3,416.49 L358.8,416.48 L360.3,416.48 L361.8,416.48 L363.3,416.47 L364.8,416.47 L366.3,416.47 L367.81,416.46 L369.31,416.46 L370.81,416.46 L372.31,416.46 L373.81,416.45 L375.31,416.45 L376.81,416.45 L378.31,416.44 L379.82,416.44 L381.32,416.44 L382.82,416.43 L384.32,416.43 L385.82,416.43 L387.32,416.43 L388.82,416.42 L390.32,416.42 L391.83,416.42 L393.33,416.41 L394.83,416.41 L396.33,416.4 L397.83,416.4 L399.33,416.39 L400.83,416.38 L402.33,416.37 L403.84,416.35 L405.34,416.34 L406.84,416.32 L408.34,416.3 L409.84,416.29 L411.34,416.27 L412.84,416.25 L414.34,416.24 L415.84,416.22 L417.35,416.2 L418.85,416.18 L420.35,416.17 L421.85,416.15 L423.35,416.13 L424.85,416.12 L426.35,416.1 L427.85,416.07 L429.35,416.03 L430.84,415.98 L432.33,415.88 L433.82,415.74 L435.29,415.54 L436.75,415.27 L438.21,414.95 L439.66,414.58 L441.1,414.19 L442.55,413.78 L443.99,413.36 L445.43,412.94 L446.87,412.53 L448.31,412.12 L449.76,411.71 L451.21,411.32 L452.66,410.94 L454.11,410.57 L455.57,410.2 L457.02,409.82 L458.47,409.43 L459.91,409.02 L461.34,408.59 L462.77,408.12 L464.18,407.63 L465.58,407.1 L466.96,406.54 L468.31,405.92 L469.62,405.23 L470.89,404.48 L472.13,403.66 L473.33,402.78 L474.5,401.86 L475.66,400.91 L476.8,399.94 L477.92,398.94 L479.03,397.93 L480.12,396.9 L481.19,395.86 L482.26,394.8 L483.3,393.73 L484.33,392.64 L485.32,391.53 L486.28,390.38 L487.19,389.2 L488.07,387.99 L488.91,386.76 L489.73,385.5 L490.53,384.23 L491.32,382.96 L492.11,381.68 L492.88,380.4 L493.64,379.1 L494.4,377.81 L495.15,376.5 L495.88,375.2 L496.62,373.89 L497.35,372.58 L498.07,371.26 L498.8,369.95 L499.51,368.63 L500.22,367.3 L500.92,365.97 L501.6,364.64 L502.28,363.3 L502.96,361.96 L503.62,360.62 L504.28,359.27 L504.93,357.91 L505.56,356.55 L506.17,355.18 L506.77,353.81 L507.35,352.42 L507.92,351.04 L508.49,349.65 L509.05,348.25 L509.61,346.86 L510.17,345.47 L510.73,344.07 L511.29,342.68 L511.85,341.29 L512.41,339.9 L512.96,338.5 L513.52,337.11 L514.08,335.72 L514.64,334.32 L515.2,332.93 L515.76,331.54 L516.32,330.14 L516.88,328.75 L517.43,327.35 L517.99,325.96 L518.55,324.57 L519.1,323.17 L519.66,321.78 L520.22,320.38 L520.77,318.99 L521.33,317.59 L521.88,316.2 L522.44,314.81 L523,313.41 L523.56,312.02 L524.12,310.63 L524.68,309.23 L525.23,307.84 L525.79,306.45 L526.35,305.05 L526.91,303.66 L527.47,302.27 L528.03,300.87 L528.59,299.48 L529.15,298.09 L529.71,296.69 L530.27,295.3 L530.83,293.91 L531.39,292.51 L531.95,291.12 L532.5,289.73 L533.06,288.33 L533.62,286.94 L534.18,285.55 L534.73,284.15 L535.29,282.76 L535.85,281.36 L536.4,279.97 L536.96,278.57 L537.51,277.18 L538.06,275.78 L538.61,274.38 L539.15,272.98 L539.69,271.58 L540.22,270.18 L540.76,268.78 L541.29,267.37 L541.82,265.97 L542.34,264.56 L542.87,263.15 L543.38,261.74 L543.89,260.33 L544.4,258.92 L544.9,257.5 L545.39,256.09 L545.88,254.67 L546.37,253.25 L546.86,251.83 L547.35,250.41 L547.84,248.99 L548.33,247.57 L548.82,246.15 L549.31,244.74 L549.81,243.32 L550.3,241.9 L550.8,240.48 L551.29,239.07 L551.79,237.65 L552.3,236.24 L552.8,234.82 L553.3,233.41 L553.8,231.99 L554.31,230.58 L554.81,229.16 L555.32,227.75 L555.84,226.34 L556.36,224.94 L556.89,223.53 L557.44,222.14 L558,220.75 L558.58,219.36 L559.16,217.97 L559.74,216.59 L560.33,215.21 L560.92,213.83 L561.51,212.45 L562.11,211.07 L562.7,209.69 L563.3,208.32 L563.9,206.94 L564.51,205.57 L565.13,204.2 L565.76,202.84 L566.39,201.48 L567.03,200.12 L567.68,198.77 L568.33,197.41 L568.98,196.06 L569.64,194.71 L570.31,193.37 L570.99,192.03 L571.69,190.7 L572.39,189.38 L573.11,188.06 L573.84,186.75 L574.56,185.43 L575.29,184.12 L576.03,182.81 L576.76,181.5 L577.5,180.2 L578.24,178.9 L579,177.6 L579.78,176.32 L580.58,175.05 L581.4,173.79 L582.23,172.55 L583.08,171.31 L583.94,170.08 L584.8,168.85 L585.67,167.63 L586.54,166.4 L587.41,165.18 L588.28,163.95 L589.15,162.73 L590.03,161.52 L590.91,160.3 L591.8,159.09 L592.69,157.88 L593.58,156.67 L594.47,155.47 L595.36,154.26 L596.26,153.06 L597.16,151.85 L598.06,150.65 L598.97,149.46 L599.89,148.28 L600.82,147.1 L601.76,145.93 L602.71,144.77 L603.67,143.61 L604.63,142.45 L605.59,141.3 L606.56,140.15 L607.53,139.01 L608.51,137.88 L609.5,136.75 L610.51,135.64 L611.54,134.55 L612.58,133.47 L613.63,132.39 L614.68,131.33 L615.75,130.27 L616.81,129.21 L617.89,128.17 L618.98,127.14 L620.08,126.12 L621.2,125.12 L622.34,124.14 L623.48,123.17 L624.63,122.21 L625.79,121.26 L626.96,120.31 L628.12,119.37 L629.3,118.43 L630.47,117.5 L631.66,116.57 L632.84,115.66 L634.03,114.74 L635.22,113.83 L636.41,112.91 L637.6,111.99 L638.78,111.07 L639.96,110.13 L641.12,109.19 L642.28,108.24 L643.44,107.28 L644.59,106.31 L645.74,105.35 L646.89,104.39 L648.05,103.43 L649.22,102.49 L650.4,101.57 L651.6,100.68 L652.82,99.8 L654.05,98.95 L655.3,98.12 L656.55,97.3 L657.81,96.48 L659.08,95.68 L660.35,94.89 L661.64,94.12 L662.94,93.38 L664.26,92.67 L665.59,91.99 L666.94,91.34 L668.3,90.71 L669.67,90.09 L671.04,89.48 L672.41,88.87 L673.78,88.27 L675.16,87.67 L676.54,87.08 L677.93,86.51 L679.32,85.94 L680.71,85.4 L682.12,84.86 L683.52,84.34 L684.93,83.83 L686.35,83.33 L687.77,82.85 L689.19,82.4 L690.63,81.98 L692.08,81.61 L693.54,81.28 L695,80.99 L696.48,80.73 L697.96,80.5 L699.44,80.28 L700.93,80.09 L702.42,79.92 L703.91,79.78 L705.4,79.67 L706.9,79.59 L708.4,79.54 L709.9,79.49 L711.4,79.46 L712.9,79.43 L714.4,79.4" fill="none" stroke="#008080" stroke-width="5.3" stroke-linejoin="round" stroke-linecap="butt"/>
<path d="M238.7,414.2 L240.19,414.41 L241.67,414.61 L243.16,414.8 L244.65,414.96 L246.14,415.09 L247.64,415.18 L249.14,415.24 L250.64,415.27 L252.14,415.29 L253.64,415.3 L255.14,415.3 L256.64,415.3 L258.14,415.3 L259.65,415.3 L261.15,415.3 L262.65,415.3 L264.15,415.3 L265.65,415.3 L267.16,415.3 L268.66,415.3 L270.16,415.3 L271.66,415.3 L273.16,415.3 L274.67,415.3 L276.17,415.3 L277.67,415.3 L279.17,415.3 L280.67,415.3 L282.18,415.3 L283.68,415.3 L285.18,415.3 L286.68,415.3 L288.18,415.3 L289.69,415.3 L291.19,415.3 L292.69,415.3 L294.19,415.3 L295.69,415.3 L297.2,415.3 L298.7,415.3 L300.2,415.3 L301.7,415.29 L303.2,415.29 L304.71,415.29 L306.21,415.28 L307.71,415.28 L309.21,415.27 L310.71,415.27 L312.22,415.26 L313.72,415.26 L315.22,415.25 L316.72,415.25 L318.22,415.25 L319.73,415.24 L321.23,415.24 L322.73,415.23 L324.23,415.23 L325.73,415.22 L327.24,415.22 L328.74,415.21 L330.24,415.21 L331.74,415.2 L333.24,415.2 L334.75,415.2 L336.25,415.19 L337.75,415.19 L339.25,415.18 L340.75,415.18 L342.26,415.17 L343.76,415.17 L345.26,415.16 L346.76,415.16 L348.26,415.16 L349.77,415.15 L351.27,415.15 L352.77,415.14 L354.27,415.14 L355.77,415.13 L357.28,415.13 L358.78,415.12 L360.28,415.12 L361.78,415.11 L363.28,415.11 L364.79,415.11 L366.29,415.1 L367.79,415.1 L369.29,415.09 L370.79,415.09 L372.3,415.08 L373.8,415.08 L375.3,415.07 L376.8,415.07 L378.3,415.07 L379.81,415.06 L381.31,415.06 L382.81,415.05 L384.31,415.05 L385.81,415.04 L387.32,415.04 L388.82,415.03 L390.32,415.03 L391.82,415.02 L393.32,415.02 L394.83,415.01 L396.33,415.01 L397.83,415 L399.33,415 L400.83,414.99 L402.34,414.98 L403.84,414.97 L405.34,414.96 L406.84,414.94 L408.34,414.93 L409.85,414.92 L411.35,414.91 L412.85,414.9 L414.35,414.89 L415.85,414.87 L417.36,414.86 L418.86,414.85 L420.36,414.84 L421.86,414.83 L423.36,414.81 L424.86,414.8 L426.37,414.79 L427.87,414.78 L429.37,414.77 L430.87,414.75 L432.37,414.74 L433.88,414.73 L435.38,414.72 L436.88,414.7 L438.38,414.69 L439.88,414.68 L441.39,414.67 L442.89,414.66 L444.39,414.64 L445.89,414.63 L447.39,414.61 L448.9,414.58 L450.4,414.55 L451.9,414.52 L453.4,414.48 L454.9,414.43 L456.4,414.38 L457.9,414.34 L459.4,414.29 L460.91,414.24 L462.41,414.19 L463.91,414.14 L465.41,414.09 L466.91,414.04 L468.41,413.99 L469.91,413.94 L471.41,413.89 L472.92,413.84 L474.42,413.78 L475.92,413.73 L477.42,413.67 L478.92,413.61 L480.42,413.54 L481.92,413.47 L483.42,413.39 L484.92,413.31 L486.42,413.23 L487.92,413.14 L489.42,413.06 L490.92,412.97 L492.42,412.88 L493.92,412.8 L495.42,412.71 L496.92,412.62 L498.41,412.53 L499.91,412.44 L501.41,412.35 L502.91,412.24 L504.41,412.13 L505.9,412 L507.4,411.87 L508.89,411.72 L510.39,411.58 L511.88,411.42 L513.38,411.27 L514.87,411.11 L516.36,410.94 L517.85,410.76 L519.34,410.56 L520.82,410.34 L522.3,410.08 L523.77,409.8 L525.23,409.47 L526.68,409.11 L528.12,408.7 L529.55,408.25 L530.96,407.75 L532.35,407.2 L533.73,406.61 L535.08,405.99 L536.43,405.33 L537.76,404.64 L539.09,403.95 L540.42,403.25 L541.75,402.55 L543.07,401.84 L544.37,401.11 L545.66,400.35 L546.91,399.54 L548.13,398.69 L549.31,397.79 L550.47,396.84 L551.6,395.86 L552.72,394.86 L553.82,393.84 L554.91,392.81 L555.99,391.76 L557.06,390.71 L558.12,389.65 L559.18,388.58 L560.23,387.51 L561.26,386.42 L562.29,385.33 L563.31,384.23 L564.32,383.12 L565.31,381.99 L566.29,380.85 L567.24,379.7 L568.17,378.52 L569.07,377.32 L569.94,376.1 L570.79,374.87 L571.62,373.62 L572.43,372.36 L573.22,371.08 L573.99,369.79 L574.74,368.49 L575.47,367.18 L576.19,365.86 L576.9,364.54 L577.59,363.21 L578.28,361.88 L578.97,360.54 L579.64,359.2 L580.32,357.86 L581,356.52 L581.67,355.17 L582.34,353.83 L583.01,352.49 L583.67,351.14 L584.32,349.79 L584.96,348.43 L585.58,347.06 L586.18,345.68 L586.76,344.3 L587.34,342.91 L587.91,341.53 L588.48,340.14 L589.05,338.75 L589.62,337.36 L590.19,335.97 L590.77,334.58 L591.34,333.19 L591.92,331.81 L592.49,330.42 L593.07,329.03 L593.65,327.65 L594.23,326.26 L594.81,324.87 L595.38,323.49 L595.96,322.1 L596.54,320.71 L597.12,319.33 L597.7,317.94 L598.28,316.56 L598.86,315.17 L599.45,313.79 L600.04,312.41 L600.65,311.04 L601.25,309.66 L601.87,308.29 L602.48,306.92 L603.1,305.55 L603.73,304.19 L604.35,302.82 L604.97,301.45 L605.59,300.09 L606.22,298.72 L606.84,297.35 L607.46,295.99 L608.08,294.62 L608.71,293.25 L609.33,291.88 L609.95,290.52 L610.57,289.15 L611.2,287.78 L611.82,286.42 L612.44,285.05 L613.06,283.68 L613.68,282.31 L614.3,280.94 L614.92,279.58 L615.54,278.21 L616.16,276.84 L616.78,275.47 L617.4,274.11 L618.02,272.74 L618.64,271.37 L619.27,270 L619.89,268.64 L620.51,267.27 L621.13,265.9 L621.75,264.53 L622.37,263.17 L623,261.8 L623.62,260.43 L624.24,259.07 L624.87,257.7 L625.49,256.33 L626.11,254.97 L626.73,253.6 L627.36,252.23 L627.98,250.87 L628.6,249.5 L629.22,248.13 L629.84,246.76 L630.46,245.4 L631.08,244.03 L631.7,242.66 L632.31,241.28 L632.92,239.91 L633.53,238.54 L634.14,237.17 L634.75,235.79 L635.36,234.42 L635.97,233.05 L636.58,231.68 L637.19,230.3 L637.8,228.93 L638.42,227.57 L639.05,226.2 L639.69,224.84 L640.34,223.49 L640.99,222.14 L641.65,220.79 L642.32,219.44 L642.98,218.09 L643.65,216.75 L644.32,215.4 L644.99,214.06 L645.66,212.72 L646.34,211.38 L647.03,210.04 L647.73,208.71 L648.43,207.39 L649.15,206.07 L649.87,204.75 L650.59,203.43 L651.32,202.12 L652.05,200.81 L652.78,199.49 L653.51,198.18 L654.24,196.87 L654.98,195.56 L655.71,194.25 L656.45,192.94 L657.2,191.64 L657.96,190.35 L658.73,189.06 L659.51,187.77 L660.29,186.49 L661.08,185.21 L661.87,183.94 L662.67,182.66 L663.46,181.39 L664.26,180.12 L665.06,178.84 L665.86,177.57 L666.66,176.3 L667.47,175.04 L668.28,173.77 L669.1,172.52 L669.93,171.26 L670.76,170.01 L671.6,168.77 L672.44,167.52 L673.29,166.28 L674.14,165.04 L675,163.81 L675.87,162.59 L676.76,161.39 L677.67,160.19 L678.6,159.01 L679.53,157.84 L680.48,156.67 L681.43,155.51 L682.39,154.35 L683.35,153.2 L684.31,152.05 L685.29,150.91 L686.29,149.79 L687.3,148.68 L688.33,147.59 L689.37,146.51 L690.43,145.45 L691.49,144.39 L692.57,143.34 L693.65,142.3 L694.74,141.27 L695.84,140.25 L696.95,139.23 L698.07,138.24 L699.2,137.25 L700.34,136.27 L701.49,135.31 L702.66,134.37 L703.85,133.46 L705.06,132.57 L706.28,131.7 L707.51,130.85 L708.76,130.01 L710,129.17 L711.25,128.33 L712.5,127.5" fill="none" stroke="#FF00FF" stroke-width="5.3" stroke-linejoin="round" stroke-linecap="butt"/>
<text x="464" y="51.4" font-size="34" text-anchor="start" font-weight="bold" fill="#FF0000">b</text>
<text x="603" y="51.2" font-size="34" text-anchor="start" font-weight="bold" fill="#FF00FF">f</text>
<line x1="485.7" y1="43.3" x2="576" y2="43.3" stroke="#8000FF" stroke-width="2.8" stroke-linecap="butt"/>
<path d="M573,38.8 L579.5,39.6 L593.7,43.3 L579.5,47 L573,47.9 Z" fill="#8000FF"/>
<text x="667" y="388.2" font-size="34" text-anchor="start" font-weight="bold" fill="#000">a</text>
<line x1="960.8" y1="11.27" x2="960.8" y2="466.3" stroke="#000" stroke-width="3" stroke-linecap="butt"/>
<line x1="954.8" y1="455.8" x2="960.8" y2="455.8" stroke="#000" stroke-width="3" stroke-linecap="butt"/>
<line x1="960.8" y1="455.8" x2="1570.05" y2="455.8" stroke="#000" stroke-width="3" stroke-linecap="butt"/>
<line x1="950.3" y1="455.8" x2="960.8" y2="455.8" stroke="#000" stroke-width="3" stroke-linecap="butt"/>
<line x1="950.3" y1="357.35" x2="960.8" y2="357.35" stroke="#000" stroke-width="3" stroke-linecap="butt"/>
<line x1="950.3" y1="258.9" x2="960.8" y2="258.9" stroke="#000" stroke-width="3" stroke-linecap="butt"/>
<line x1="950.3" y1="160.45" x2="960.8" y2="160.45" stroke="#000" stroke-width="3" stroke-linecap="butt"/>
<line x1="950.3" y1="62" x2="960.8" y2="62" stroke="#000" stroke-width="3" stroke-linecap="butt"/>
<line x1="954.8" y1="406.57" x2="960.8" y2="406.57" stroke="#000" stroke-width="3" stroke-linecap="butt"/>
<line x1="954.8" y1="308.12" x2="960.8" y2="308.12" stroke="#000" stroke-width="3" stroke-linecap="butt"/>
<line x1="954.8" y1="209.67" x2="960.8" y2="209.67" stroke="#000" stroke-width="3" stroke-linecap="butt"/>
<line x1="954.8" y1="111.22" x2="960.8" y2="111.22" stroke="#000" stroke-width="3" stroke-linecap="butt"/>
<line x1="954.8" y1="12.77" x2="960.8" y2="12.77" stroke="#000" stroke-width="3" stroke-linecap="butt"/>
<line x1="960.8" y1="455.8" x2="960.8" y2="466.3" stroke="#000" stroke-width="3" stroke-linecap="butt"/>
<line x1="1071.3" y1="455.8" x2="1071.3" y2="466.3" stroke="#000" stroke-width="3" stroke-linecap="butt"/>
<line x1="1181.8" y1="455.8" x2="1181.8" y2="466.3" stroke="#000" stroke-width="3" stroke-linecap="butt"/>
<line x1="1292.3" y1="455.8" x2="1292.3" y2="466.3" stroke="#000" stroke-width="3" stroke-linecap="butt"/>
<line x1="1402.8" y1="455.8" x2="1402.8" y2="466.3" stroke="#000" stroke-width="3" stroke-linecap="butt"/>
<line x1="1513.3" y1="455.8" x2="1513.3" y2="466.3" stroke="#000" stroke-width="3" stroke-linecap="butt"/>
<line x1="1016.05" y1="455.8" x2="1016.05" y2="461.8" stroke="#000" stroke-width="3" stroke-linecap="butt"/>
<line x1="1126.55" y1="455.8" x2="1126.55" y2="461.8" stroke="#000" stroke-width="3" stroke-linecap="butt"/>
<line x1="1237.05" y1="455.8" x2="1237.05" y2="461.8" stroke="#000" stroke-width="3" stroke-linecap="butt"/>
<line x1="1347.55" y1="455.8" x2="1347.55" y2="461.8" stroke="#000" stroke-width="3" stroke-linecap="butt"/>
<line x1="1458.05" y1="455.8" x2="1458.05" y2="461.8" stroke="#000" stroke-width="3" stroke-linecap="butt"/>
<line x1="1568.55" y1="455.8" x2="1568.55" y2="461.8" stroke="#000" stroke-width="3" stroke-linecap="butt"/>
<text x="947.5" y="465.3" font-size="35.3" text-anchor="end" font-weight="bold" fill="#000">20</text>
<text x="947.5" y="366.85" font-size="35.3" text-anchor="end" font-weight="bold" fill="#000">30</text>
<text x="947.5" y="268.4" font-size="35.3" text-anchor="end" font-weight="bold" fill="#000">40</text>
<text x="947.5" y="169.95" font-size="35.3" text-anchor="end" font-weight="bold" fill="#000">50</text>
<text x="947.5" y="71.5" font-size="35.3" text-anchor="end" font-weight="bold" fill="#000">60</text>
<text x="960.8" y="494.4" font-size="34.6" text-anchor="middle" font-weight="bold" fill="#000">-3</text>
<text x="1071.3" y="494.4" font-size="34.6" text-anchor="middle" font-weight="bold" fill="#000">-2</text>
<text x="1181.8" y="494.4" font-size="34.6" text-anchor="middle" font-weight="bold" fill="#000">-1</text>
<text x="1292.3" y="494.4" font-size="34.6" text-anchor="middle" font-weight="bold" fill="#000">0</text>
<text x="1402.8" y="494.4" font-size="34.6" text-anchor="middle" font-weight="bold" fill="#000">1</text>
<text x="1513.3" y="494.4" font-size="34.6" text-anchor="middle" font-weight="bold" fill="#000">2</text>
<text x="1202.5" y="536.5" font-size="34.5" text-anchor="middle" font-weight="bold" fill="#000">-LogC(pg/ml)</text>
<text transform="translate(880.5,232) rotate(-90)" font-size="34.3" font-weight="bold" text-anchor="middle" fill="#000">Time(min)</text>
<text x="849" y="59" font-size="56.5" text-anchor="start" font-weight="bold" fill="#FF0000">B</text>
<text x="1046.5" y="73.3" font-size="34" text-anchor="start" font-weight="bold" fill="#000">R<tspan font-size="17.6" dy="-18.1">2</tspan><tspan dy="18.1">=0.993</tspan></text>
<text x="1047" y="115.6" font-size="34" text-anchor="start" font-weight="bold" fill="#000">Y=41.85+7.53X</text>
<line x1="1049.5" y1="389.1" x2="1049.5" y2="401.5" stroke="#000" stroke-width="1.6" stroke-linecap="butt"/>
<line x1="1049.5" y1="409.4" x2="1049.5" y2="414" stroke="#000" stroke-width="1.6" stroke-linecap="butt"/>
<line x1="1045.3" y1="389.1" x2="1053.7" y2="389.1" stroke="#000" stroke-width="1.6" stroke-linecap="butt"/>
<line x1="1045.3" y1="414" x2="1053.7" y2="414" stroke="#000" stroke-width="1.6" stroke-linecap="butt"/>
<rect x="1043.9" y="395.9" width="11.2" height="11.2" fill="#000"/>
<line x1="1160" y1="316.8" x2="1160" y2="332.3" stroke="#000" stroke-width="1.6" stroke-linecap="butt"/>
<line x1="1160" y1="340.2" x2="1160" y2="349.3" stroke="#000" stroke-width="1.6" stroke-linecap="butt"/>
<line x1="1155.8" y1="316.8" x2="1164.2" y2="316.8" stroke="#000" stroke-width="1.6" stroke-linecap="butt"/>
<line x1="1155.8" y1="349.3" x2="1164.2" y2="349.3" stroke="#000" stroke-width="1.6" stroke-linecap="butt"/>
<rect x="1154.4" y="326.7" width="11.2" height="11.2" fill="#000"/>
<line x1="1270.5" y1="234.5" x2="1270.5" y2="254.8" stroke="#000" stroke-width="1.6" stroke-linecap="butt"/>
<line x1="1270.5" y1="262.7" x2="1270.5" y2="274.4" stroke="#000" stroke-width="1.6" stroke-linecap="butt"/>
<line x1="1266.3" y1="234.5" x2="1274.7" y2="234.5" stroke="#000" stroke-width="1.6" stroke-linecap="butt"/>
<line x1="1266.3" y1="274.4" x2="1274.7" y2="274.4" stroke="#000" stroke-width="1.6" stroke-linecap="butt"/>
<rect x="1264.9" y="249.2" width="11.2" height="11.2" fill="#000"/>
<line x1="1381" y1="172.9" x2="1381" y2="194.1" stroke="#000" stroke-width="1.6" stroke-linecap="butt"/>
<line x1="1381" y1="202" x2="1381" y2="218.5" stroke="#000" stroke-width="1.6" stroke-linecap="butt"/>
<line x1="1376.8" y1="172.9" x2="1385.2" y2="172.9" stroke="#000" stroke-width="1.6" stroke-linecap="butt"/>
<line x1="1376.8" y1="218.5" x2="1385.2" y2="218.5" stroke="#000" stroke-width="1.6" stroke-linecap="butt"/>
<rect x="1375.4" y="188.5" width="11.2" height="11.2" fill="#000"/>
<line x1="1491.5" y1="64" x2="1491.5" y2="91.2" stroke="#000" stroke-width="1.6" stroke-linecap="butt"/>
<line x1="1491.5" y1="99.1" x2="1491.5" y2="119.8" stroke="#000" stroke-width="1.6" stroke-linecap="butt"/>
<line x1="1487.3" y1="64" x2="1495.7" y2="64" stroke="#000" stroke-width="1.6" stroke-linecap="butt"/>
<line x1="1487.3" y1="119.8" x2="1495.7" y2="119.8" stroke="#000" stroke-width="1.6" stroke-linecap="butt"/>
<rect x="1485.9" y="85.6" width="11.2" height="11.2" fill="#000"/>
<line x1="1049.2" y1="404.08" x2="1491.2" y2="107.65" stroke="#FF0000" stroke-width="5.4" stroke-linecap="round"/>
<line x1="571.8" y1="618.6" x2="571.8" y2="1087.9" stroke="#000" stroke-width="3" stroke-linecap="butt"/>
<line x1="565.8" y1="1077.4" x2="1135.3" y2="1077.4" stroke="#000" stroke-width="3" stroke-linecap="butt"/>
<line x1="561.3" y1="1036.7" x2="571.8" y2="1036.7" stroke="#000" stroke-width="3" stroke-linecap="butt"/>
<line x1="561.3" y1="953.38" x2="571.8" y2="953.38" stroke="#000" stroke-width="3" stroke-linecap="butt"/>
<line x1="561.3" y1="870.06" x2="571.8" y2="870.06" stroke="#000" stroke-width="3" stroke-linecap="butt"/>
<line x1="561.3" y1="786.74" x2="571.8" y2="786.74" stroke="#000" stroke-width="3" stroke-linecap="butt"/>
<line x1="561.3" y1="703.42" x2="571.8" y2="703.42" stroke="#000" stroke-width="3" stroke-linecap="butt"/>
<line x1="561.3" y1="620.1" x2="571.8" y2="620.1" stroke="#000" stroke-width="3" stroke-linecap="butt"/>
<line x1="565.8" y1="995.04" x2="571.8" y2="995.04" stroke="#000" stroke-width="3" stroke-linecap="butt"/>
<line x1="565.8" y1="911.72" x2="571.8" y2="911.72" stroke="#000" stroke-width="3" stroke-linecap="butt"/>
<line x1="565.8" y1="828.4" x2="571.8" y2="828.4" stroke="#000" stroke-width="3" stroke-linecap="butt"/>
<line x1="565.8" y1="745.08" x2="571.8" y2="745.08" stroke="#000" stroke-width="3" stroke-linecap="butt"/>
<line x1="565.8" y1="661.76" x2="571.8" y2="661.76" stroke="#000" stroke-width="3" stroke-linecap="butt"/>
<line x1="571.8" y1="1077.4" x2="571.8" y2="1087.9" stroke="#000" stroke-width="3" stroke-linecap="butt"/>
<line x1="684.2" y1="1077.4" x2="684.2" y2="1087.9" stroke="#000" stroke-width="3" stroke-linecap="butt"/>
<line x1="796.6" y1="1077.4" x2="796.6" y2="1087.9" stroke="#000" stroke-width="3" stroke-linecap="butt"/>
<line x1="909" y1="1077.4" x2="909" y2="1087.9" stroke="#000" stroke-width="3" stroke-linecap="butt"/>
<line x1="1021.4" y1="1077.4" x2="1021.4" y2="1087.9" stroke="#000" stroke-width="3" stroke-linecap="butt"/>
<line x1="1133.8" y1="1077.4" x2="1133.8" y2="1087.9" stroke="#000" stroke-width="3" stroke-linecap="butt"/>
<line x1="628" y1="1077.4" x2="628" y2="1083.4" stroke="#000" stroke-width="3" stroke-linecap="butt"/>
<line x1="740.4" y1="1077.4" x2="740.4" y2="1083.4" stroke="#000" stroke-width="3" stroke-linecap="butt"/>
<line x1="852.8" y1="1077.4" x2="852.8" y2="1083.4" stroke="#000" stroke-width="3" stroke-linecap="butt"/>
<line x1="965.2" y1="1077.4" x2="965.2" y2="1083.4" stroke="#000" stroke-width="3" stroke-linecap="butt"/>
<line x1="1077.6" y1="1077.4" x2="1077.6" y2="1083.4" stroke="#000" stroke-width="3" stroke-linecap="butt"/>
<text x="555.2" y="1047.6" font-size="35" text-anchor="end" font-weight="bold" fill="#000">0</text>
<text x="555.2" y="964.28" font-size="35" text-anchor="end" font-weight="bold" fill="#000">2000</text>
<text x="555.2" y="880.96" font-size="35" text-anchor="end" font-weight="bold" fill="#000">4000</text>
<text x="555.2" y="797.64" font-size="35" text-anchor="end" font-weight="bold" fill="#000">6000</text>
<text x="555.2" y="714.32" font-size="35" text-anchor="end" font-weight="bold" fill="#000">8000</text>
<text x="555.2" y="631" font-size="35" text-anchor="end" font-weight="bold" fill="#000">10000</text>
<text x="571.8" y="1118.6" font-size="33.2" text-anchor="middle" font-weight="bold" fill="#000">0</text>
<text x="684.2" y="1118.6" font-size="33.2" text-anchor="middle" font-weight="bold" fill="#000">20</text>
<text x="796.6" y="1118.6" font-size="33.2" text-anchor="middle" font-weight="bold" fill="#000">40</text>
<text x="909" y="1118.6" font-size="33.2" text-anchor="middle" font-weight="bold" fill="#000">60</text>
<text x="1021.4" y="1118.6" font-size="33.2" text-anchor="middle" font-weight="bold" fill="#000">80</text>
<text x="1133.8" y="1118.6" font-size="33.2" text-anchor="middle" font-weight="bold" fill="#000">100</text>
<text x="855.8" y="1155.3" font-size="35" text-anchor="middle" font-weight="bold" fill="#000">Time (min)</text>
<text transform="translate(465.6,1051.7) rotate(-90)" font-size="36.5" font-weight="bold" text-anchor="start" fill="#000">Fluorescence Intensity (a.u.)</text>
<text x="300" y="648.4" font-size="56.5" text-anchor="start" font-weight="bold" fill="#FF0000">C</text>
<path d="M592.4,1031 L593.9,1030.96 L595.4,1030.93 L596.9,1030.89 L598.4,1030.86 L599.9,1030.82 L601.4,1030.78 L602.9,1030.75 L604.4,1030.71 L605.9,1030.68 L607.4,1030.64 L608.9,1030.6 L610.4,1030.57 L611.9,1030.53 L613.4,1030.5 L614.9,1030.46 L616.4,1030.42 L617.9,1030.39 L619.4,1030.35 L620.9,1030.31 L622.4,1030.28 L623.9,1030.24 L625.4,1030.21 L626.9,1030.17 L628.4,1030.13 L629.9,1030.1 L631.4,1030.07 L632.9,1030.04 L634.4,1030.03 L635.9,1030.02 L637.4,1030.02 L638.9,1030.02 L640.4,1030.03 L641.9,1030.04 L643.4,1030.04 L644.9,1030.05 L646.4,1030.06 L647.91,1030.06 L649.41,1030.07 L650.91,1030.08 L652.41,1030.08 L653.91,1030.09 L655.41,1030.1 L656.91,1030.1 L658.41,1030.11 L659.91,1030.12 L661.41,1030.12 L662.91,1030.13 L664.41,1030.14 L665.91,1030.15 L667.41,1030.15 L668.91,1030.16 L670.41,1030.17 L671.91,1030.17 L673.41,1030.18 L674.91,1030.19 L676.41,1030.19 L677.91,1030.2 L679.41,1030.21 L680.92,1030.21 L682.42,1030.22 L683.92,1030.23 L685.42,1030.23 L686.92,1030.24 L688.42,1030.25 L689.92,1030.25 L691.42,1030.26 L692.92,1030.27 L694.42,1030.27 L695.92,1030.28 L697.42,1030.29 L698.92,1030.3 L700.42,1030.3 L701.92,1030.31 L703.42,1030.32 L704.92,1030.32 L706.42,1030.33 L707.92,1030.34 L709.42,1030.35 L710.92,1030.35 L712.42,1030.36 L713.92,1030.37 L715.43,1030.38 L716.93,1030.38 L718.43,1030.39 L719.93,1030.4 L721.43,1030.41 L722.93,1030.41 L724.43,1030.42 L725.93,1030.43 L727.43,1030.44 L728.93,1030.44 L730.43,1030.45 L731.93,1030.46 L733.43,1030.47 L734.93,1030.47 L736.43,1030.48 L737.93,1030.49 L739.43,1030.5 L740.93,1030.5 L742.43,1030.51 L743.93,1030.52 L745.43,1030.53 L746.93,1030.53 L748.44,1030.54 L749.94,1030.55 L751.44,1030.56 L752.94,1030.56 L754.44,1030.57 L755.94,1030.58 L757.44,1030.59 L758.94,1030.59 L760.44,1030.6 L761.94,1030.61 L763.44,1030.62 L764.94,1030.62 L766.44,1030.63 L767.94,1030.64 L769.44,1030.65 L770.94,1030.65 L772.44,1030.66 L773.94,1030.67 L775.44,1030.68 L776.94,1030.68 L778.44,1030.69 L779.94,1030.7 L781.45,1030.71 L782.95,1030.71 L784.45,1030.72 L785.95,1030.73 L787.45,1030.74 L788.95,1030.74 L790.45,1030.75 L791.95,1030.76 L793.45,1030.77 L794.95,1030.77 L796.45,1030.78 L797.95,1030.79 L799.45,1030.8 L800.95,1030.8 L802.45,1030.81 L803.95,1030.82 L805.45,1030.83 L806.95,1030.83 L808.45,1030.84 L809.95,1030.85 L811.45,1030.86 L812.95,1030.86 L814.45,1030.87 L815.96,1030.88 L817.46,1030.89 L818.96,1030.89 L820.46,1030.9 L821.96,1030.91 L823.46,1030.92 L824.96,1030.92 L826.46,1030.93 L827.96,1030.94 L829.46,1030.95 L830.96,1030.95 L832.46,1030.96 L833.96,1030.97 L835.46,1030.98 L836.96,1030.98 L838.46,1030.99 L839.96,1030.99 L841.46,1030.98 L842.96,1030.97 L844.46,1030.96 L845.96,1030.95 L847.46,1030.94 L848.97,1030.93 L850.47,1030.91 L851.97,1030.9 L853.47,1030.89 L854.97,1030.88 L856.47,1030.86 L857.97,1030.85 L859.47,1030.84 L860.97,1030.83 L862.47,1030.81 L863.97,1030.8 L865.47,1030.79 L866.97,1030.78 L868.47,1030.76 L869.97,1030.75 L871.47,1030.74 L872.97,1030.73 L874.47,1030.71 L875.97,1030.7 L877.47,1030.69 L878.97,1030.68 L880.47,1030.66 L881.97,1030.65 L883.47,1030.64 L884.98,1030.63 L886.48,1030.61 L887.98,1030.6 L889.48,1030.59 L890.98,1030.58 L892.48,1030.56 L893.98,1030.55 L895.48,1030.54 L896.98,1030.52 L898.48,1030.51 L899.98,1030.49 L901.48,1030.48 L902.98,1030.45 L904.48,1030.43 L905.98,1030.41 L907.48,1030.39 L908.98,1030.37 L910.48,1030.34 L911.98,1030.32 L913.48,1030.3 L914.98,1030.28 L916.48,1030.25 L917.98,1030.23 L919.48,1030.21 L920.98,1030.19 L922.48,1030.16 L923.98,1030.14 L925.48,1030.12 L926.98,1030.1 L928.48,1030.07 L929.99,1030.05 L931.49,1030.03 L932.99,1030.01 L934.49,1029.98 L935.99,1029.96 L937.49,1029.94 L938.99,1029.92 L940.49,1029.89 L941.99,1029.87 L943.49,1029.85 L944.99,1029.83 L946.49,1029.8 L947.99,1029.78 L949.49,1029.76 L950.99,1029.74 L952.49,1029.71 L953.99,1029.69 L955.49,1029.67 L956.99,1029.65 L958.49,1029.62 L959.99,1029.6 L961.49,1029.58 L962.99,1029.56 L964.49,1029.53 L965.99,1029.51 L967.49,1029.49 L968.99,1029.47 L970.49,1029.44 L971.99,1029.42 L973.49,1029.4 L974.99,1029.38 L976.49,1029.35 L977.99,1029.33 L979.5,1029.31 L981,1029.29 L982.5,1029.26 L984,1029.24 L985.5,1029.22 L987,1029.2 L988.5,1029.17 L990,1029.15 L991.5,1029.13 L993,1029.11 L994.5,1029.08 L996,1029.06 L997.5,1029.03 L999,1029.01 L1000.5,1028.97 L1002,1028.94 L1003.5,1028.89 L1005,1028.85 L1006.5,1028.81 L1008,1028.76 L1009.5,1028.72 L1011,1028.67 L1012.5,1028.63 L1014,1028.58 L1015.5,1028.54 L1017,1028.49 L1018.5,1028.45 L1020,1028.4 L1021.5,1028.36 L1023,1028.31 L1024.5,1028.27 L1026,1028.22 L1027.5,1028.18 L1029,1028.13 L1030.49,1028.09 L1031.99,1028.04 L1033.49,1028 L1034.99,1027.95 L1036.49,1027.91 L1037.99,1027.86 L1039.49,1027.82 L1040.99,1027.77 L1042.49,1027.73 L1043.99,1027.68 L1045.49,1027.64 L1046.99,1027.59 L1048.49,1027.55 L1049.99,1027.52 L1051.49,1027.49 L1052.99,1027.47 L1054.49,1027.46 L1055.99,1027.44 L1057.49,1027.43 L1058.99,1027.41 L1060.49,1027.4 L1062,1027.38 L1063.5,1027.37 L1065,1027.35 L1066.5,1027.34 L1068,1027.32 L1069.5,1027.31 L1071,1027.29 L1072.5,1027.28 L1074,1027.26 L1075.5,1027.25 L1077,1027.23 L1078.5,1027.22 L1080,1027.2" fill="none" stroke="#000000" stroke-width="5.3" stroke-linejoin="round" stroke-linecap="butt"/>
<path d="M592.4,1024.5 L593.9,1024.4 L595.4,1024.29 L596.9,1024.19 L598.39,1024.08 L599.89,1023.98 L601.39,1023.87 L602.89,1023.77 L604.39,1023.66 L605.89,1023.56 L607.39,1023.46 L608.89,1023.35 L610.38,1023.25 L611.88,1023.14 L613.38,1023.04 L614.88,1022.93 L616.38,1022.83 L617.88,1022.72 L619.38,1022.62 L620.87,1022.52 L622.37,1022.41 L623.87,1022.31 L625.37,1022.2 L626.87,1022.1 L628.37,1021.99 L629.87,1021.89 L631.37,1021.79 L632.86,1021.7 L634.36,1021.62 L635.86,1021.55 L637.37,1021.5 L638.87,1021.45 L640.37,1021.4 L641.87,1021.35 L643.37,1021.3 L644.87,1021.25 L646.37,1021.2 L647.88,1021.16 L649.38,1021.11 L650.88,1021.06 L652.38,1021.01 L653.88,1020.96 L655.38,1020.92 L656.89,1020.87 L658.39,1020.82 L659.89,1020.77 L661.39,1020.72 L662.89,1020.68 L664.39,1020.63 L665.89,1020.58 L667.4,1020.53 L668.9,1020.48 L670.4,1020.44 L671.9,1020.39 L673.4,1020.34 L674.9,1020.29 L676.4,1020.24 L677.91,1020.2 L679.41,1020.15 L680.91,1020.1 L682.41,1020.06 L683.91,1020.04 L685.41,1020.02 L686.92,1020.01 L688.42,1020.01 L689.92,1020.02 L691.42,1020.02 L692.93,1020.02 L694.43,1020.03 L695.93,1020.03 L697.43,1020.03 L698.94,1020.04 L700.44,1020.04 L701.94,1020.05 L703.44,1020.05 L704.94,1020.05 L706.45,1020.06 L707.95,1020.06 L709.45,1020.07 L710.95,1020.07 L712.46,1020.07 L713.96,1020.08 L715.46,1020.08 L716.96,1020.08 L718.46,1020.09 L719.97,1020.09 L721.47,1020.1 L722.97,1020.1 L724.47,1020.1 L725.98,1020.11 L727.48,1020.11 L728.98,1020.12 L730.48,1020.12 L731.99,1020.12 L733.49,1020.13 L734.99,1020.13 L736.49,1020.13 L737.99,1020.14 L739.5,1020.14 L741,1020.15 L742.5,1020.15 L744,1020.15 L745.51,1020.16 L747.01,1020.16 L748.51,1020.17 L750.01,1020.17 L751.51,1020.17 L753.02,1020.18 L754.52,1020.18 L756.02,1020.18 L757.52,1020.19 L759.03,1020.19 L760.53,1020.2 L762.03,1020.2 L763.53,1020.2 L765.04,1020.21 L766.54,1020.21 L768.04,1020.22 L769.54,1020.22 L771.04,1020.22 L772.55,1020.23 L774.05,1020.23 L775.55,1020.23 L777.05,1020.24 L778.56,1020.24 L780.06,1020.25 L781.56,1020.25 L783.06,1020.25 L784.56,1020.26 L786.07,1020.26 L787.57,1020.27 L789.07,1020.27 L790.57,1020.27 L792.08,1020.28 L793.58,1020.28 L795.08,1020.28 L796.58,1020.29 L798.09,1020.29 L799.59,1020.3 L801.09,1020.3 L802.59,1020.3 L804.09,1020.31 L805.6,1020.31 L807.1,1020.32 L808.6,1020.32 L810.1,1020.32 L811.61,1020.33 L813.11,1020.33 L814.61,1020.33 L816.11,1020.34 L817.61,1020.34 L819.12,1020.35 L820.62,1020.35 L822.12,1020.35 L823.62,1020.36 L825.13,1020.36 L826.63,1020.37 L828.13,1020.37 L829.63,1020.37 L831.14,1020.38 L832.64,1020.38 L834.14,1020.38 L835.64,1020.39 L837.14,1020.39 L838.65,1020.4 L840.15,1020.4 L841.65,1020.41 L843.15,1020.41 L844.66,1020.42 L846.16,1020.42 L847.66,1020.43 L849.16,1020.43 L850.66,1020.44 L852.17,1020.44 L853.67,1020.45 L855.17,1020.46 L856.67,1020.46 L858.18,1020.47 L859.68,1020.47 L861.18,1020.48 L862.68,1020.48 L864.19,1020.49 L865.69,1020.49 L867.19,1020.5 L868.69,1020.5 L870.19,1020.51 L871.7,1020.52 L873.2,1020.52 L874.7,1020.53 L876.2,1020.53 L877.71,1020.54 L879.21,1020.54 L880.71,1020.55 L882.21,1020.55 L883.71,1020.56 L885.22,1020.56 L886.72,1020.57 L888.22,1020.58 L889.72,1020.58 L891.23,1020.59 L892.73,1020.59 L894.23,1020.6 L895.73,1020.6 L897.23,1020.61 L898.74,1020.61 L900.24,1020.62 L901.74,1020.62 L903.24,1020.63 L904.75,1020.64 L906.25,1020.64 L907.75,1020.65 L909.25,1020.65 L910.76,1020.66 L912.26,1020.66 L913.76,1020.67 L915.26,1020.67 L916.76,1020.68 L918.27,1020.68 L919.77,1020.69 L921.27,1020.7 L922.77,1020.7 L924.28,1020.71 L925.78,1020.71 L927.28,1020.72 L928.78,1020.72 L930.28,1020.73 L931.79,1020.73 L933.29,1020.74 L934.79,1020.74 L936.29,1020.75 L937.8,1020.76 L939.3,1020.76 L940.8,1020.77 L942.3,1020.77 L943.81,1020.78 L945.31,1020.78 L946.81,1020.79 L948.31,1020.79 L949.81,1020.8 L951.32,1020.8 L952.82,1020.81 L954.32,1020.82 L955.82,1020.82 L957.33,1020.83 L958.83,1020.83 L960.33,1020.84 L961.83,1020.84 L963.33,1020.85 L964.84,1020.85 L966.34,1020.86 L967.84,1020.86 L969.34,1020.87 L970.85,1020.88 L972.35,1020.88 L973.85,1020.89 L975.35,1020.89 L976.86,1020.9 L978.36,1020.9 L979.86,1020.91 L981.36,1020.91 L982.86,1020.92 L984.37,1020.92 L985.87,1020.93 L987.37,1020.94 L988.87,1020.94 L990.38,1020.95 L991.88,1020.95 L993.38,1020.96 L994.88,1020.96 L996.38,1020.97 L997.89,1020.97 L999.39,1020.98 L1000.89,1020.99 L1002.39,1020.99 L1003.9,1021 L1005.4,1021 L1006.9,1021.01 L1008.4,1021.02 L1009.9,1021.02 L1011.41,1021.03 L1012.91,1021.03 L1014.41,1021.04 L1015.91,1021.05 L1017.42,1021.05 L1018.92,1021.06 L1020.42,1021.07 L1021.92,1021.07 L1023.43,1021.08 L1024.93,1021.09 L1026.43,1021.09 L1027.93,1021.1 L1029.43,1021.11 L1030.94,1021.11 L1032.44,1021.12 L1033.94,1021.13 L1035.44,1021.13 L1036.95,1021.14 L1038.45,1021.15 L1039.95,1021.15 L1041.45,1021.16 L1042.95,1021.17 L1044.46,1021.17 L1045.96,1021.18 L1047.46,1021.19 L1048.96,1021.19 L1050.47,1021.2 L1051.97,1021.21 L1053.47,1021.21 L1054.97,1021.22 L1056.48,1021.23 L1057.98,1021.23 L1059.48,1021.24 L1060.98,1021.25 L1062.48,1021.25 L1063.99,1021.26 L1065.49,1021.27 L1066.99,1021.27 L1068.49,1021.28 L1070,1021.29 L1071.5,1021.29 L1073,1021.3" fill="none" stroke="#FF0000" stroke-width="5.3" stroke-linejoin="round" stroke-linecap="butt"/>
<path d="M592.4,1035.5 L593.9,1035.5 L595.4,1035.49 L596.91,1035.49 L598.41,1035.49 L599.91,1035.48 L601.41,1035.48 L602.92,1035.48 L604.42,1035.48 L605.92,1035.47 L607.42,1035.47 L608.93,1035.47 L610.43,1035.46 L611.93,1035.46 L613.43,1035.46 L614.94,1035.45 L616.44,1035.45 L617.94,1035.45 L619.44,1035.44 L620.95,1035.44 L622.45,1035.44 L623.95,1035.44 L625.45,1035.43 L626.95,1035.43 L628.46,1035.43 L629.96,1035.42 L631.46,1035.42 L632.96,1035.42 L634.47,1035.41 L635.97,1035.41 L637.47,1035.41 L638.97,1035.4 L640.48,1035.4 L641.98,1035.4 L643.48,1035.4 L644.98,1035.39 L646.49,1035.39 L647.99,1035.39 L649.49,1035.38 L650.99,1035.38 L652.5,1035.38 L654,1035.37 L655.5,1035.37 L657,1035.37 L658.5,1035.36 L660.01,1035.36 L661.51,1035.36 L663.01,1035.36 L664.51,1035.35 L666.02,1035.35 L667.52,1035.35 L669.02,1035.34 L670.52,1035.34 L672.03,1035.34 L673.53,1035.33 L675.03,1035.33 L676.53,1035.33 L678.04,1035.32 L679.54,1035.32 L681.04,1035.32 L682.54,1035.32 L684.05,1035.31 L685.55,1035.31 L687.05,1035.3 L688.55,1035.28 L690.05,1035.25 L691.56,1035.21 L693.06,1035.15 L694.56,1035.08 L696.06,1035.01 L697.56,1034.94 L699.06,1034.86 L700.56,1034.79 L702.06,1034.72 L703.56,1034.65 L705.06,1034.57 L706.56,1034.5 L708.06,1034.43 L709.56,1034.36 L711.06,1034.29 L712.56,1034.21 L714.07,1034.14 L715.57,1034.07 L717.07,1034 L718.57,1033.93 L720.07,1033.86 L721.57,1033.8 L723.07,1033.73 L724.57,1033.66 L726.07,1033.6 L727.57,1033.53 L729.07,1033.46 L730.57,1033.4 L732.08,1033.33 L733.58,1033.26 L735.08,1033.2 L736.58,1033.13 L738.08,1033.06 L739.58,1033 L741.08,1032.93 L742.58,1032.86 L744.08,1032.8 L745.58,1032.73 L747.08,1032.66 L748.59,1032.6 L750.09,1032.53 L751.59,1032.46 L753.09,1032.4 L754.59,1032.33 L756.09,1032.26 L757.59,1032.2 L759.09,1032.13 L760.59,1032.07 L762.09,1032.01 L763.6,1031.95 L765.1,1031.9 L766.6,1031.85 L768.1,1031.8 L769.6,1031.76 L771.1,1031.71 L772.61,1031.66 L774.11,1031.61 L775.61,1031.56 L777.11,1031.52 L778.61,1031.47 L780.11,1031.42 L781.61,1031.37 L783.12,1031.32 L784.62,1031.28 L786.12,1031.23 L787.62,1031.18 L789.12,1031.13 L790.62,1031.08 L792.13,1031.03 L793.63,1030.99 L795.13,1030.94 L796.63,1030.89 L798.13,1030.84 L799.63,1030.79 L801.14,1030.75 L802.64,1030.7 L804.14,1030.65 L805.64,1030.6 L807.14,1030.55 L808.64,1030.51 L810.15,1030.46 L811.65,1030.41 L813.15,1030.36 L814.65,1030.31 L816.15,1030.26 L817.65,1030.22 L819.16,1030.17 L820.66,1030.12 L822.16,1030.07 L823.66,1030.02 L825.16,1029.98 L826.66,1029.93 L828.16,1029.88 L829.67,1029.83 L831.17,1029.78 L832.67,1029.73 L834.17,1029.69 L835.67,1029.64 L837.17,1029.59 L838.68,1029.55 L840.18,1029.51 L841.68,1029.47 L843.18,1029.44 L844.68,1029.41 L846.19,1029.38 L847.69,1029.35 L849.19,1029.32 L850.69,1029.29 L852.19,1029.26 L853.7,1029.23 L855.2,1029.2 L856.7,1029.17 L858.2,1029.14 L859.71,1029.12 L861.21,1029.09 L862.71,1029.06 L864.21,1029.03 L865.71,1029 L867.22,1028.97 L868.72,1028.94 L870.22,1028.91 L871.72,1028.88 L873.22,1028.85 L874.73,1028.82 L876.23,1028.79 L877.73,1028.76 L879.23,1028.73 L880.73,1028.71 L882.24,1028.68 L883.74,1028.65 L885.24,1028.62 L886.74,1028.59 L888.25,1028.56 L889.75,1028.53 L891.25,1028.5 L892.75,1028.47 L894.25,1028.44 L895.76,1028.41 L897.26,1028.38 L898.76,1028.35 L900.26,1028.32 L901.76,1028.29 L903.27,1028.27 L904.77,1028.24 L906.27,1028.21 L907.77,1028.18 L909.27,1028.15 L910.78,1028.12 L912.28,1028.09 L913.78,1028.06 L915.28,1028.03 L916.79,1028 L918.29,1027.97 L919.79,1027.94 L921.29,1027.91 L922.79,1027.87 L924.29,1027.83 L925.8,1027.78 L927.3,1027.74 L928.8,1027.7 L930.3,1027.65 L931.8,1027.6 L933.31,1027.56 L934.81,1027.51 L936.31,1027.47 L937.81,1027.42 L939.31,1027.38 L940.81,1027.33 L942.32,1027.29 L943.82,1027.24 L945.32,1027.2 L946.82,1027.15 L948.32,1027.11 L949.82,1027.06 L951.33,1027.02 L952.83,1026.97 L954.33,1026.93 L955.83,1026.88 L957.33,1026.84 L958.83,1026.79 L960.34,1026.75 L961.84,1026.7 L963.34,1026.65 L964.84,1026.61 L966.34,1026.56 L967.84,1026.52 L969.35,1026.47 L970.85,1026.43 L972.35,1026.38 L973.85,1026.34 L975.35,1026.29 L976.85,1026.25 L978.36,1026.2 L979.86,1026.16 L981.36,1026.11 L982.86,1026.07 L984.36,1026.02 L985.86,1025.98 L987.37,1025.93 L988.87,1025.89 L990.37,1025.84 L991.87,1025.8 L993.37,1025.75 L994.88,1025.7 L996.38,1025.66 L997.88,1025.61 L999.38,1025.57 L1000.88,1025.53 L1002.38,1025.48 L1003.89,1025.44 L1005.39,1025.41 L1006.89,1025.39 L1008.39,1025.37 L1009.89,1025.35 L1011.4,1025.33 L1012.9,1025.31 L1014.4,1025.3 L1015.9,1025.28 L1017.41,1025.27 L1018.91,1025.25 L1020.41,1025.23 L1021.91,1025.22 L1023.41,1025.2 L1024.92,1025.18 L1026.42,1025.17 L1027.92,1025.15 L1029.42,1025.14 L1030.93,1025.12 L1032.43,1025.1 L1033.93,1025.09 L1035.43,1025.07 L1036.94,1025.05 L1038.44,1025.04 L1039.94,1025.02 L1041.44,1025.01 L1042.94,1024.99 L1044.45,1024.97 L1045.95,1024.96 L1047.45,1024.94 L1048.95,1024.92 L1050.46,1024.91 L1051.96,1024.89 L1053.46,1024.88 L1054.96,1024.86 L1056.47,1024.84 L1057.97,1024.83 L1059.47,1024.81 L1060.97,1024.79 L1062.47,1024.78 L1063.98,1024.76 L1065.48,1024.75 L1066.98,1024.73 L1068.48,1024.71 L1069.99,1024.7 L1071.49,1024.68 L1072.99,1024.66 L1074.49,1024.65 L1076,1024.63 L1077.5,1024.62 L1079,1024.6" fill="none" stroke="#0000FF" stroke-width="5.3" stroke-linejoin="round" stroke-linecap="butt"/>
<path d="M592.4,1036.2 L593.9,1036.2 L595.4,1036.2 L596.91,1036.2 L598.41,1036.2 L599.91,1036.2 L601.41,1036.2 L602.92,1036.2 L604.42,1036.2 L605.92,1036.19 L607.42,1036.19 L608.92,1036.19 L610.43,1036.19 L611.93,1036.19 L613.43,1036.19 L614.93,1036.19 L616.44,1036.19 L617.94,1036.19 L619.44,1036.19 L620.94,1036.19 L622.44,1036.19 L623.95,1036.19 L625.45,1036.19 L626.95,1036.19 L628.45,1036.19 L629.95,1036.18 L631.46,1036.18 L632.96,1036.18 L634.46,1036.18 L635.96,1036.18 L637.47,1036.18 L638.97,1036.18 L640.47,1036.18 L641.97,1036.18 L643.47,1036.18 L644.98,1036.18 L646.48,1036.18 L647.98,1036.18 L649.48,1036.18 L650.99,1036.18 L652.49,1036.18 L653.99,1036.18 L655.49,1036.17 L656.99,1036.17 L658.5,1036.17 L660,1036.17 L661.5,1036.17 L663,1036.17 L664.51,1036.17 L666.01,1036.17 L667.51,1036.17 L669.01,1036.17 L670.51,1036.17 L672.02,1036.17 L673.52,1036.17 L675.02,1036.17 L676.52,1036.17 L678.03,1036.17 L679.53,1036.16 L681.03,1036.16 L682.53,1036.16 L684.03,1036.16 L685.54,1036.16 L687.04,1036.16 L688.54,1036.16 L690.04,1036.16 L691.54,1036.16 L693.05,1036.16 L694.55,1036.16 L696.05,1036.16 L697.55,1036.16 L699.06,1036.16 L700.56,1036.16 L702.06,1036.16 L703.56,1036.16 L705.06,1036.15 L706.57,1036.15 L708.07,1036.15 L709.57,1036.15 L711.07,1036.15 L712.58,1036.15 L714.08,1036.15 L715.58,1036.15 L717.08,1036.15 L718.58,1036.15 L720.09,1036.15 L721.59,1036.15 L723.09,1036.15 L724.59,1036.15 L726.1,1036.15 L727.6,1036.15 L729.1,1036.14 L730.6,1036.14 L732.1,1036.14 L733.61,1036.14 L735.11,1036.14 L736.61,1036.14 L738.11,1036.14 L739.62,1036.14 L741.12,1036.14 L742.62,1036.14 L744.12,1036.14 L745.62,1036.14 L747.13,1036.14 L748.63,1036.14 L750.13,1036.14 L751.63,1036.14 L753.14,1036.14 L754.64,1036.13 L756.14,1036.13 L757.64,1036.13 L759.14,1036.13 L760.65,1036.13 L762.15,1036.13 L763.65,1036.13 L765.15,1036.13 L766.65,1036.13 L768.16,1036.13 L769.66,1036.13 L771.16,1036.13 L772.66,1036.13 L774.17,1036.13 L775.67,1036.13 L777.17,1036.13 L778.67,1036.12 L780.17,1036.12 L781.68,1036.12 L783.18,1036.12 L784.68,1036.12 L786.18,1036.12 L787.69,1036.12 L789.19,1036.12 L790.69,1036.12 L792.19,1036.12 L793.69,1036.12 L795.2,1036.12 L796.7,1036.12 L798.2,1036.12 L799.7,1036.12 L801.21,1036.12 L802.71,1036.12 L804.21,1036.11 L805.71,1036.11 L807.21,1036.11 L808.72,1036.11 L810.22,1036.11 L811.72,1036.11 L813.22,1036.11 L814.73,1036.11 L816.23,1036.11 L817.73,1036.11 L819.23,1036.11 L820.73,1036.11 L822.24,1036.11 L823.74,1036.11 L825.24,1036.11 L826.74,1036.11 L828.24,1036.1 L829.75,1036.1 L831.25,1036.1 L832.75,1036.1 L834.25,1036.1 L835.76,1036.1 L837.26,1036.1 L838.76,1036.09 L840.26,1036.07 L841.76,1036.05 L843.27,1036.02 L844.77,1035.99 L846.27,1035.96 L847.77,1035.92 L849.27,1035.89 L850.78,1035.86 L852.28,1035.82 L853.78,1035.79 L855.28,1035.76 L856.78,1035.72 L858.28,1035.69 L859.79,1035.65 L861.29,1035.62 L862.79,1035.59 L864.29,1035.55 L865.79,1035.52 L867.3,1035.48 L868.8,1035.45 L870.3,1035.42 L871.8,1035.38 L873.3,1035.35 L874.8,1035.32 L876.31,1035.28 L877.81,1035.25 L879.31,1035.21 L880.81,1035.18 L882.31,1035.15 L883.81,1035.11 L885.32,1035.08 L886.82,1035.04 L888.32,1035.01 L889.82,1034.98 L891.32,1034.94 L892.83,1034.91 L894.33,1034.88 L895.83,1034.84 L897.33,1034.81 L898.83,1034.77 L900.33,1034.74 L901.84,1034.71 L903.34,1034.67 L904.84,1034.64 L906.34,1034.6 L907.84,1034.57 L909.35,1034.53 L910.85,1034.48 L912.35,1034.42 L913.85,1034.35 L915.35,1034.28 L916.85,1034.21 L918.35,1034.13 L919.85,1034.06 L921.35,1033.98 L922.85,1033.91 L924.35,1033.83 L925.85,1033.76 L927.35,1033.68 L928.85,1033.61 L930.35,1033.53 L931.85,1033.46 L933.35,1033.38 L934.85,1033.31 L936.35,1033.23 L937.85,1033.16 L939.35,1033.08 L940.85,1033.01 L942.35,1032.93 L943.86,1032.86 L945.36,1032.79 L946.86,1032.72 L948.36,1032.65 L949.86,1032.58 L951.36,1032.51 L952.86,1032.44 L954.36,1032.37 L955.86,1032.3 L957.36,1032.23 L958.86,1032.17 L960.36,1032.1 L961.86,1032.03 L963.36,1031.96 L964.86,1031.89 L966.36,1031.82 L967.86,1031.75 L969.37,1031.69 L970.87,1031.62 L972.37,1031.55 L973.87,1031.48 L975.37,1031.41 L976.87,1031.35 L978.37,1031.29 L979.87,1031.23 L981.37,1031.19 L982.87,1031.15 L984.38,1031.13 L985.88,1031.1 L987.38,1031.07 L988.88,1031.05 L990.38,1031.02 L991.89,1031 L993.39,1030.97 L994.89,1030.94 L996.39,1030.92 L997.89,1030.89 L999.4,1030.87 L1000.9,1030.84 L1002.4,1030.82 L1003.9,1030.79 L1005.4,1030.76 L1006.91,1030.74 L1008.41,1030.71 L1009.91,1030.69 L1011.41,1030.66 L1012.91,1030.63 L1014.42,1030.61 L1015.92,1030.58 L1017.42,1030.56 L1018.92,1030.53 L1020.42,1030.51 L1021.92,1030.48 L1023.43,1030.45 L1024.93,1030.43 L1026.43,1030.4 L1027.93,1030.38 L1029.43,1030.35 L1030.94,1030.33 L1032.44,1030.3 L1033.94,1030.27 L1035.44,1030.25 L1036.94,1030.22 L1038.45,1030.2 L1039.95,1030.17 L1041.45,1030.14 L1042.95,1030.12 L1044.45,1030.09 L1045.96,1030.07 L1047.46,1030.04 L1048.96,1030.02 L1050.46,1029.99 L1051.96,1029.96 L1053.47,1029.94 L1054.97,1029.91 L1056.47,1029.89 L1057.97,1029.86 L1059.47,1029.84 L1060.98,1029.81 L1062.48,1029.78 L1063.98,1029.76 L1065.48,1029.73 L1066.98,1029.71 L1068.49,1029.68 L1069.99,1029.65 L1071.49,1029.63 L1072.99,1029.6 L1074.49,1029.58 L1076,1029.55 L1077.5,1029.53 L1079,1029.5" fill="none" stroke="#008080" stroke-width="5.3" stroke-linejoin="round" stroke-linecap="butt"/>
<path d="M592.4,1010.4 L593.9,1010.39 L595.4,1010.39 L596.9,1010.38 L598.4,1010.38 L599.9,1010.37 L601.4,1010.37 L602.9,1010.36 L604.4,1010.36 L605.9,1010.35 L607.4,1010.34 L608.9,1010.34 L610.4,1010.33 L611.91,1010.33 L613.41,1010.32 L614.91,1010.32 L616.41,1010.31 L617.91,1010.31 L619.41,1010.3 L620.91,1010.29 L622.41,1010.29 L623.91,1010.28 L625.41,1010.28 L626.91,1010.27 L628.41,1010.27 L629.91,1010.26 L631.41,1010.25 L632.91,1010.25 L634.41,1010.24 L635.91,1010.24 L637.41,1010.23 L638.91,1010.23 L640.41,1010.22 L641.91,1010.22 L643.41,1010.21 L644.91,1010.2 L646.41,1010.2 L647.92,1010.19 L649.42,1010.19 L650.92,1010.18 L652.42,1010.18 L653.92,1010.17 L655.42,1010.17 L656.92,1010.16 L658.42,1010.15 L659.92,1010.15 L661.42,1010.14 L662.92,1010.14 L664.42,1010.13 L665.92,1010.13 L667.42,1010.12 L668.92,1010.12 L670.42,1010.11 L671.92,1010.1 L673.42,1010.1 L674.92,1010.09 L676.42,1010.09 L677.92,1010.08 L679.42,1010.08 L680.92,1010.07 L682.42,1010.07 L683.93,1010.06 L685.43,1010.05 L686.93,1010.05 L688.43,1010.04 L689.93,1010.04 L691.43,1010.03 L692.93,1010.03 L694.43,1010.02 L695.93,1010.01 L697.43,1010.01 L698.93,1010 L700.43,1009.99 L701.93,1009.99 L703.43,1009.98 L704.93,1009.96 L706.43,1009.95 L707.93,1009.94 L709.43,1009.93 L710.93,1009.92 L712.43,1009.91 L713.93,1009.9 L715.43,1009.89 L716.93,1009.88 L718.43,1009.87 L719.93,1009.86 L721.43,1009.85 L722.94,1009.84 L724.44,1009.83 L725.94,1009.81 L727.44,1009.8 L728.94,1009.79 L730.44,1009.78 L731.94,1009.77 L733.44,1009.76 L734.94,1009.75 L736.44,1009.74 L737.94,1009.73 L739.44,1009.72 L740.94,1009.71 L742.44,1009.7 L743.94,1009.69 L745.44,1009.68 L746.94,1009.66 L748.44,1009.65 L749.94,1009.64 L751.44,1009.63 L752.94,1009.62 L754.44,1009.61 L755.94,1009.6 L757.44,1009.59 L758.94,1009.58 L760.44,1009.57 L761.95,1009.56 L763.45,1009.55 L764.95,1009.54 L766.45,1009.53 L767.95,1009.51 L769.45,1009.5 L770.95,1009.49 L772.45,1009.48 L773.95,1009.47 L775.45,1009.46 L776.95,1009.45 L778.45,1009.44 L779.95,1009.43 L781.45,1009.42 L782.95,1009.41 L784.45,1009.4 L785.95,1009.39 L787.45,1009.38 L788.95,1009.36 L790.45,1009.35 L791.95,1009.34 L793.45,1009.33 L794.95,1009.32 L796.45,1009.31 L797.95,1009.3 L799.45,1009.29 L800.96,1009.28 L802.46,1009.27 L803.96,1009.26 L805.46,1009.25 L806.96,1009.24 L808.46,1009.23 L809.96,1009.21 L811.46,1009.2 L812.96,1009.19 L814.46,1009.18 L815.96,1009.17 L817.46,1009.16 L818.96,1009.15 L820.46,1009.14 L821.96,1009.13 L823.46,1009.12 L824.96,1009.11 L826.46,1009.1 L827.96,1009.09 L829.46,1009.08 L830.96,1009.06 L832.46,1009.05 L833.96,1009.04 L835.46,1009.03 L836.96,1009.02 L838.46,1009 L839.96,1008.97 L841.46,1008.93 L842.96,1008.88 L844.46,1008.82 L845.96,1008.76 L847.46,1008.7 L848.96,1008.64 L850.46,1008.58 L851.96,1008.52 L853.46,1008.46 L854.96,1008.4 L856.46,1008.34 L857.96,1008.28 L859.46,1008.22 L860.95,1008.16 L862.45,1008.1 L863.95,1008.04 L865.45,1007.98 L866.95,1007.93 L868.45,1007.88 L869.95,1007.85 L871.45,1007.83 L872.95,1007.84 L874.45,1007.85 L875.95,1007.86 L877.45,1007.87 L878.95,1007.89 L880.45,1007.9 L881.95,1007.92 L883.45,1007.93 L884.95,1007.95 L886.45,1007.96 L887.95,1007.98 L889.45,1007.99 L890.95,1008.01 L892.45,1008.02 L893.96,1008.03 L895.46,1008.05 L896.96,1008.06 L898.46,1008.08 L899.96,1008.09 L901.46,1008.11 L902.96,1008.12 L904.46,1008.14 L905.96,1008.15 L907.46,1008.17 L908.96,1008.18 L910.46,1008.2 L911.96,1008.21 L913.46,1008.23 L914.96,1008.24 L916.46,1008.26 L917.96,1008.27 L919.46,1008.28 L920.96,1008.3 L922.46,1008.31 L923.96,1008.33 L925.46,1008.34 L926.96,1008.36 L928.46,1008.37 L929.96,1008.39 L931.46,1008.4 L932.96,1008.42 L934.46,1008.43 L935.96,1008.45 L937.47,1008.46 L938.97,1008.48 L940.47,1008.49 L941.97,1008.51 L943.47,1008.52 L944.97,1008.53 L946.47,1008.55 L947.97,1008.56 L949.47,1008.58 L950.97,1008.59 L952.47,1008.61 L953.97,1008.62 L955.47,1008.64 L956.97,1008.65 L958.47,1008.67 L959.97,1008.68 L961.47,1008.7 L962.97,1008.71 L964.47,1008.73 L965.97,1008.74 L967.47,1008.76 L968.97,1008.77 L970.47,1008.78 L971.97,1008.78 L973.47,1008.78 L974.97,1008.78 L976.47,1008.77 L977.97,1008.76 L979.48,1008.75 L980.98,1008.74 L982.48,1008.73 L983.98,1008.73 L985.48,1008.72 L986.98,1008.71 L988.48,1008.7 L989.98,1008.69 L991.48,1008.68 L992.98,1008.67 L994.48,1008.66 L995.98,1008.65 L997.48,1008.64 L998.98,1008.63 L1000.48,1008.62 L1001.98,1008.61 L1003.48,1008.6 L1004.98,1008.59 L1006.48,1008.58 L1007.98,1008.58 L1009.48,1008.57 L1010.98,1008.56 L1012.48,1008.55 L1013.98,1008.54 L1015.48,1008.53 L1016.98,1008.52 L1018.49,1008.51 L1019.99,1008.5 L1021.49,1008.49 L1022.99,1008.48 L1024.49,1008.47 L1025.99,1008.46 L1027.49,1008.45 L1028.99,1008.44 L1030.49,1008.43 L1031.99,1008.43 L1033.49,1008.42 L1034.99,1008.41 L1036.49,1008.4 L1037.99,1008.39 L1039.49,1008.38 L1040.99,1008.37 L1042.49,1008.36 L1043.99,1008.35 L1045.49,1008.34 L1046.99,1008.33 L1048.49,1008.32 L1049.99,1008.31 L1051.49,1008.3 L1052.99,1008.29 L1054.49,1008.28 L1056,1008.28 L1057.5,1008.27 L1059,1008.26 L1060.5,1008.25 L1062,1008.24 L1063.5,1008.23 L1065,1008.22 L1066.5,1008.21 L1068,1008.19 L1069.5,1008.17 L1071,1008.15 L1072.5,1008.12 L1074,1008.1 L1075.5,1008.08 L1077,1008.05 L1078.5,1008.03 L1080,1008" fill="none" stroke="#FF00FF" stroke-width="5.3" stroke-linejoin="round" stroke-linecap="butt"/>
<path d="M592.4,1008.6 L593.9,1008.59 L595.4,1008.58 L596.91,1008.58 L598.41,1008.57 L599.91,1008.56 L601.41,1008.55 L602.91,1008.55 L604.41,1008.54 L605.92,1008.53 L607.42,1008.52 L608.92,1008.51 L610.42,1008.51 L611.92,1008.5 L613.42,1008.49 L614.93,1008.48 L616.43,1008.47 L617.93,1008.47 L619.43,1008.46 L620.93,1008.45 L622.43,1008.44 L623.94,1008.44 L625.44,1008.43 L626.94,1008.42 L628.44,1008.41 L629.94,1008.4 L631.44,1008.4 L632.95,1008.39 L634.45,1008.38 L635.95,1008.37 L637.45,1008.37 L638.95,1008.36 L640.45,1008.35 L641.96,1008.34 L643.46,1008.33 L644.96,1008.33 L646.46,1008.32 L647.96,1008.31 L649.46,1008.3 L650.97,1008.29 L652.47,1008.27 L653.97,1008.26 L655.47,1008.24 L656.97,1008.23 L658.47,1008.22 L659.98,1008.2 L661.48,1008.19 L662.98,1008.17 L664.48,1008.16 L665.98,1008.14 L667.48,1008.13 L668.99,1008.11 L670.49,1008.1 L671.99,1008.08 L673.49,1008.07 L674.99,1008.05 L676.49,1008.04 L678,1008.02 L679.5,1008.01 L681,1007.99 L682.5,1007.97 L684,1007.96 L685.5,1007.94 L687.01,1007.93 L688.51,1007.91 L690.01,1007.9 L691.51,1007.88 L693.01,1007.87 L694.51,1007.85 L696.02,1007.84 L697.52,1007.82 L699.02,1007.81 L700.52,1007.79 L702.02,1007.77 L703.52,1007.75 L705.03,1007.73 L706.53,1007.71 L708.03,1007.69 L709.53,1007.67 L711.03,1007.65 L712.53,1007.63 L714.03,1007.61 L715.54,1007.59 L717.04,1007.57 L718.54,1007.55 L720.04,1007.53 L721.54,1007.5 L723.04,1007.48 L724.55,1007.45 L726.05,1007.42 L727.55,1007.38 L729.05,1007.32 L730.55,1007.25 L732.05,1007.17 L733.54,1007.08 L735.04,1006.98 L736.54,1006.88 L738.04,1006.77 L739.53,1006.66 L741.03,1006.54 L742.52,1006.39 L744,1006.21 L745.47,1005.97 L746.93,1005.68 L748.37,1005.32 L749.78,1004.87 L751.16,1004.35 L752.5,1003.73 L753.79,1003.03 L755.05,1002.25 L756.26,1001.4 L757.43,1000.48 L758.57,999.52 L759.67,998.51 L760.73,997.47 L761.75,996.38 L762.73,995.25 L763.66,994.08 L764.53,992.88 L765.35,991.64 L766.12,990.36 L766.85,989.06 L767.54,987.73 L768.21,986.39 L768.86,985.04 L769.5,983.68 L770.13,982.32 L770.76,980.96 L771.39,979.59 L772.02,978.23 L772.64,976.86 L773.27,975.5 L773.89,974.13 L774.51,972.76 L775.13,971.39 L775.74,970.02 L776.33,968.65 L776.91,967.26 L777.47,965.87 L778.01,964.47 L778.54,963.06 L779.04,961.65 L779.52,960.23 L779.98,958.8 L780.41,957.37 L780.81,955.92 L781.18,954.47 L781.53,953.01 L781.86,951.55 L782.19,950.08 L782.51,948.62 L782.83,947.15 L783.15,945.68 L783.48,944.22 L783.8,942.75 L784.12,941.28 L784.44,939.82 L784.76,938.35 L785.09,936.88 L785.41,935.42 L785.73,933.95 L786.06,932.48 L786.38,931.02 L786.71,929.55 L787.04,928.09 L787.37,926.62 L787.7,925.16 L788.03,923.69 L788.36,922.23 L788.7,920.76 L789.03,919.3 L789.37,917.84 L789.71,916.37 L790.05,914.91 L790.4,913.45 L790.75,911.99 L791.11,910.53 L791.46,909.07 L791.82,907.61 L792.18,906.16 L792.54,904.7 L792.9,903.24 L793.25,901.78 L793.6,900.32 L793.95,898.86 L794.3,897.4 L794.64,895.94 L794.99,894.47 L795.33,893.01 L795.67,891.55 L796.01,890.09 L796.35,888.62 L796.69,887.16 L797.03,885.7 L797.37,884.24 L797.72,882.77 L798.06,881.31 L798.4,879.85 L798.74,878.39 L799.08,876.92 L799.42,875.46 L799.76,874 L800.1,872.54 L800.44,871.07 L800.78,869.61 L801.12,868.15 L801.47,866.69 L801.81,865.22 L802.15,863.76 L802.49,862.3 L802.83,860.84 L803.17,859.37 L803.51,857.91 L803.85,856.45 L804.19,854.99 L804.52,853.52 L804.85,852.06 L805.18,850.59 L805.49,849.12 L805.8,847.65 L806.11,846.18 L806.41,844.71 L806.7,843.24 L807,841.77 L807.29,840.29 L807.58,838.82 L807.88,837.35 L808.17,835.88 L808.46,834.4 L808.75,832.93 L809.03,831.45 L809.31,829.98 L809.58,828.5 L809.84,827.02 L810.09,825.54 L810.34,824.06 L810.59,822.58 L810.84,821.1 L811.08,819.62 L811.33,818.14 L811.57,816.65 L811.81,815.17 L812.06,813.69 L812.3,812.21 L812.55,810.73 L812.79,809.25 L813.03,807.76 L813.27,806.28 L813.51,804.8 L813.75,803.32 L813.99,801.83 L814.23,800.35 L814.47,798.87 L814.71,797.39 L814.95,795.91 L815.2,794.42 L815.46,792.95 L815.74,791.47 L816.03,790 L816.34,788.53 L816.67,787.07 L817.01,785.61 L817.36,784.14 L817.7,782.68 L818.03,781.22 L818.35,779.75 L818.66,778.28 L818.96,776.81 L819.24,775.34 L819.52,773.86 L819.79,772.39 L820.06,770.91 L820.33,769.43 L820.6,767.95 L820.87,766.48 L821.13,765 L821.39,763.52 L821.65,762.04 L821.91,760.56 L822.17,759.08 L822.43,757.6 L822.69,756.12 L822.95,754.64 L823.21,753.17 L823.48,751.69 L823.76,750.21 L824.04,748.74 L824.34,747.27 L824.64,745.8 L824.95,744.33 L825.27,742.86 L825.59,741.39 L825.92,739.93 L826.25,738.46 L826.58,737 L826.93,735.54 L827.28,734.08 L827.65,732.63 L828.04,731.18 L828.44,729.73 L828.85,728.28 L829.27,726.84 L829.7,725.41 L830.15,723.97 L830.61,722.55 L831.1,721.13 L831.62,719.72 L832.15,718.32 L832.71,716.93 L833.28,715.54 L833.86,714.15 L834.44,712.77 L835.04,711.39 L835.64,710.01 L836.24,708.64 L836.86,707.27 L837.47,705.9 L838.1,704.54 L838.73,703.17 L839.37,701.82 L840.01,700.46 L840.67,699.11 L841.33,697.76 L842,696.42 L842.68,695.08 L843.38,693.75 L844.09,692.44 L844.84,691.15 L845.64,689.89 L846.49,688.67 L847.38,687.47 L848.31,686.3 L849.26,685.14 L850.21,683.99 L851.17,682.83 L852.11,681.67 L853.05,680.5 L853.99,679.33 L854.92,678.16 L855.88,677.01 L856.86,675.89 L857.89,674.81 L858.96,673.78 L860.07,672.79 L861.22,671.84 L862.4,670.92 L863.6,670.02 L864.81,669.14 L866.04,668.29 L867.29,667.49 L868.58,666.74 L869.89,666.06 L871.24,665.43 L872.62,664.85 L874.01,664.31 L875.42,663.8 L876.83,663.29 L878.24,662.78 L879.66,662.28 L881.07,661.77 L882.48,661.25 L883.89,660.73 L885.29,660.2 L886.69,659.66 L888.1,659.14 L889.51,658.63 L890.92,658.15 L892.35,657.73 L893.79,657.36 L895.25,657.06 L896.72,656.82 L898.2,656.65 L899.69,656.52 L901.18,656.44 L902.67,656.41 L904.17,656.41 L905.67,656.43 L907.17,656.48 L908.67,656.54 L910.17,656.6 L911.67,656.65 L913.17,656.7 L914.67,656.74 L916.17,656.77 L917.67,656.78 L919.18,656.79 L920.68,656.8 L922.18,656.8 L923.68,656.8 L925.18,656.79 L926.68,656.78 L928.19,656.77 L929.69,656.74 L931.19,656.71 L932.69,656.66 L934.19,656.61 L935.69,656.55 L937.19,656.49 L938.69,656.43 L940.19,656.37 L941.69,656.31 L943.19,656.24 L944.69,656.18 L946.19,656.12 L947.69,656.06 L949.19,656 L950.69,655.95 L952.2,655.89 L953.7,655.84 L955.2,655.79 L956.7,655.74 L958.2,655.69 L959.7,655.64 L961.2,655.59 L962.7,655.54 L964.2,655.49 L965.7,655.44 L967.2,655.39 L968.7,655.34 L970.21,655.29 L971.71,655.24 L973.21,655.19 L974.71,655.14 L976.21,655.09 L977.71,655.04 L979.21,654.99 L980.71,654.94 L982.21,654.89 L983.71,654.84 L985.21,654.8 L986.72,654.75 L988.22,654.7 L989.72,654.65 L991.22,654.61 L992.72,654.56 L994.22,654.51 L995.72,654.46 L997.22,654.42 L998.72,654.37 L1000.22,654.32 L1001.73,654.28 L1003.23,654.23 L1004.73,654.18 L1006.23,654.14 L1007.73,654.09 L1009.23,654.04 L1010.73,654 L1012.23,653.95 L1013.73,653.9 L1015.23,653.86 L1016.74,653.81 L1018.24,653.76 L1019.74,653.72 L1021.24,653.68 L1022.74,653.64 L1024.24,653.61 L1025.74,653.58 L1027.24,653.56 L1028.75,653.54 L1030.25,653.52 L1031.75,653.5 L1033.25,653.48 L1034.75,653.46 L1036.25,653.44 L1037.76,653.42 L1039.26,653.4 L1040.76,653.38 L1042.26,653.37 L1043.76,653.35 L1045.26,653.33 L1046.76,653.31 L1048.27,653.29 L1049.77,653.27 L1051.27,653.25 L1052.77,653.24 L1054.27,653.22 L1055.77,653.2 L1057.28,653.18 L1058.78,653.16 L1060.28,653.14 L1061.78,653.12 L1063.28,653.11 L1064.78,653.09 L1066.29,653.07 L1067.79,653.05 L1069.29,653.03 L1070.79,653.01 L1072.29,652.99 L1073.79,652.97 L1075.3,652.96 L1076.8,652.94 L1078.3,652.92 L1079.8,652.9" fill="none" stroke="#808000" stroke-width="5.3" stroke-linejoin="round" stroke-linecap="butt"/>
<line x1="589.4" y1="639.2" x2="646.1" y2="639.2" stroke="#000000" stroke-width="5.6" stroke-linecap="butt"/>
<text x="654" y="647.5" font-size="25" text-anchor="start" font-weight="normal" fill="#000">BSA</text>
<line x1="589.4" y1="671" x2="646.1" y2="671" stroke="#FF0000" stroke-width="5.6" stroke-linecap="butt"/>
<text x="654" y="679.1" font-size="25" text-anchor="start" font-weight="normal" fill="#000">CEA</text>
<line x1="589.4" y1="702.8" x2="646.1" y2="702.8" stroke="#0000FF" stroke-width="5.6" stroke-linecap="butt"/>
<text x="654" y="710.7" font-size="25" text-anchor="start" font-weight="normal" fill="#000">HGB</text>
<line x1="589.4" y1="734.6" x2="646.1" y2="734.6" stroke="#008080" stroke-width="5.6" stroke-linecap="butt"/>
<text x="654" y="742.3" font-size="25" text-anchor="start" font-weight="normal" fill="#000">IgG</text>
<line x1="589.4" y1="766.4" x2="646.1" y2="766.4" stroke="#FF00FF" stroke-width="5.6" stroke-linecap="butt"/>
<text x="654" y="773.9" font-size="25" text-anchor="start" font-weight="normal" fill="#000">Blank</text>
<line x1="589.4" y1="798.2" x2="646.1" y2="798.2" stroke="#808000" stroke-width="5.6" stroke-linecap="butt"/>
<text x="654" y="805.5" font-size="25" text-anchor="start" font-weight="normal" fill="#000">P-gp</text>
</svg>
</body></html>
